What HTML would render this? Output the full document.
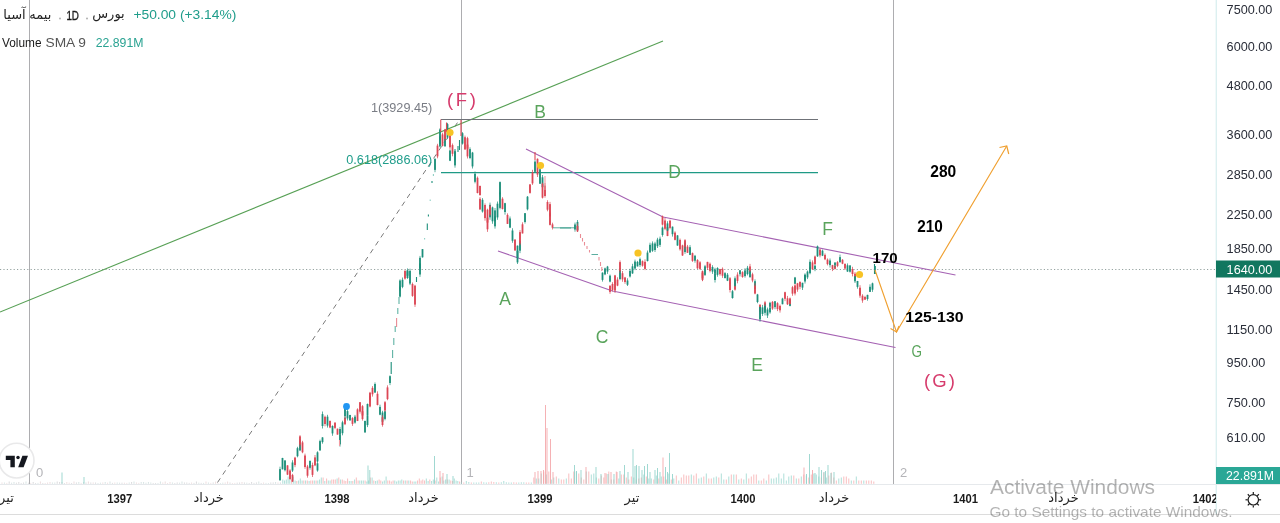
<!DOCTYPE html><html><head><meta charset="utf-8"><title>chart</title><style>
html,body{margin:0;padding:0;background:#fff;}body{width:1280px;height:523px;overflow:hidden;}svg{display:block;}text{font-family:"Liberation Sans",sans-serif;}</style></head><body>
<svg width="1280" height="523" viewBox="0 0 1280 523">
<rect width="1280" height="523" fill="#fff"/>
<line x1="29.5" y1="0" x2="29.5" y2="484" stroke="#adadb0" stroke-width="1"/>
<line x1="461.5" y1="0" x2="461.5" y2="484" stroke="#adadb0" stroke-width="1"/>
<line x1="893.5" y1="0" x2="893.5" y2="484" stroke="#adadb0" stroke-width="1"/>
<line x1="2.0" y1="483.8" x2="2.0" y2="482.5" stroke="#ead6d7" stroke-width="0.85"/>
<line x1="4.4" y1="483.8" x2="4.4" y2="482.5" stroke="#cfdedd" stroke-width="0.85"/>
<line x1="6.8" y1="483.8" x2="6.8" y2="482.9" stroke="#ead6d7" stroke-width="0.85"/>
<line x1="9.2" y1="483.8" x2="9.2" y2="481.5" stroke="#d2d2d4" stroke-width="0.85"/>
<line x1="11.6" y1="483.8" x2="11.6" y2="482.7" stroke="#cfdedd" stroke-width="0.85"/>
<line x1="14.0" y1="483.8" x2="14.0" y2="482.0" stroke="#cfdedd" stroke-width="0.85"/>
<line x1="16.4" y1="483.8" x2="16.4" y2="482.7" stroke="#d2d2d4" stroke-width="0.85"/>
<line x1="18.8" y1="483.8" x2="18.8" y2="482.0" stroke="#d2d2d4" stroke-width="0.85"/>
<line x1="21.2" y1="483.8" x2="21.2" y2="483.0" stroke="#d2d2d4" stroke-width="0.85"/>
<line x1="23.6" y1="483.8" x2="23.6" y2="482.5" stroke="#d2d2d4" stroke-width="0.85"/>
<line x1="26.0" y1="483.8" x2="26.0" y2="481.5" stroke="#cfdedd" stroke-width="0.85"/>
<line x1="28.4" y1="483.8" x2="28.4" y2="482.7" stroke="#d2d2d4" stroke-width="0.85"/>
<line x1="30.8" y1="483.8" x2="30.8" y2="482.9" stroke="#ead6d7" stroke-width="0.85"/>
<line x1="33.2" y1="483.8" x2="33.2" y2="482.0" stroke="#d2d2d4" stroke-width="0.85"/>
<line x1="35.6" y1="483.8" x2="35.6" y2="483.0" stroke="#d2d2d4" stroke-width="0.85"/>
<line x1="38.0" y1="483.8" x2="38.0" y2="482.9" stroke="#cfdedd" stroke-width="0.85"/>
<line x1="40.4" y1="483.8" x2="40.4" y2="481.5" stroke="#ead6d7" stroke-width="0.85"/>
<line x1="42.8" y1="483.8" x2="42.8" y2="483.0" stroke="#d2d2d4" stroke-width="0.85"/>
<line x1="45.2" y1="483.8" x2="45.2" y2="483.0" stroke="#ead6d7" stroke-width="0.85"/>
<line x1="47.6" y1="483.8" x2="47.6" y2="482.5" stroke="#ead6d7" stroke-width="0.85"/>
<line x1="50.0" y1="483.8" x2="50.0" y2="482.0" stroke="#ead6d7" stroke-width="0.85"/>
<line x1="52.4" y1="483.8" x2="52.4" y2="482.5" stroke="#cfdedd" stroke-width="0.85"/>
<line x1="54.8" y1="483.8" x2="54.8" y2="482.5" stroke="#cfdedd" stroke-width="0.85"/>
<line x1="57.2" y1="483.8" x2="57.2" y2="481.5" stroke="#d2d2d4" stroke-width="0.85"/>
<line x1="59.6" y1="483.8" x2="59.6" y2="482.0" stroke="#d2d2d4" stroke-width="0.85"/>
<line x1="62.0" y1="483.8" x2="62.0" y2="482.0" stroke="#d2d2d4" stroke-width="0.85"/>
<line x1="64.4" y1="483.8" x2="64.4" y2="483.0" stroke="#d2d2d4" stroke-width="0.85"/>
<line x1="66.8" y1="483.8" x2="66.8" y2="482.0" stroke="#ead6d7" stroke-width="0.85"/>
<line x1="69.2" y1="483.8" x2="69.2" y2="482.7" stroke="#ead6d7" stroke-width="0.85"/>
<line x1="71.6" y1="483.8" x2="71.6" y2="483.0" stroke="#d2d2d4" stroke-width="0.85"/>
<line x1="74.0" y1="483.8" x2="74.0" y2="481.5" stroke="#ead6d7" stroke-width="0.85"/>
<line x1="76.4" y1="483.8" x2="76.4" y2="482.5" stroke="#d2d2d4" stroke-width="0.85"/>
<line x1="78.8" y1="483.8" x2="78.8" y2="482.0" stroke="#cfdedd" stroke-width="0.85"/>
<line x1="81.2" y1="483.8" x2="81.2" y2="482.9" stroke="#ead6d7" stroke-width="0.85"/>
<line x1="83.6" y1="483.8" x2="83.6" y2="482.0" stroke="#cfdedd" stroke-width="0.85"/>
<line x1="86.0" y1="483.8" x2="86.0" y2="482.5" stroke="#d2d2d4" stroke-width="0.85"/>
<line x1="88.4" y1="483.8" x2="88.4" y2="481.5" stroke="#ead6d7" stroke-width="0.85"/>
<line x1="90.8" y1="483.8" x2="90.8" y2="482.5" stroke="#d2d2d4" stroke-width="0.85"/>
<line x1="93.2" y1="483.8" x2="93.2" y2="482.5" stroke="#ead6d7" stroke-width="0.85"/>
<line x1="95.6" y1="483.8" x2="95.6" y2="482.5" stroke="#d2d2d4" stroke-width="0.85"/>
<line x1="98.0" y1="483.8" x2="98.0" y2="483.0" stroke="#cfdedd" stroke-width="0.85"/>
<line x1="100.4" y1="483.8" x2="100.4" y2="482.7" stroke="#cfdedd" stroke-width="0.85"/>
<line x1="102.8" y1="483.8" x2="102.8" y2="482.5" stroke="#ead6d7" stroke-width="0.85"/>
<line x1="105.2" y1="483.8" x2="105.2" y2="482.0" stroke="#cfdedd" stroke-width="0.85"/>
<line x1="107.6" y1="483.8" x2="107.6" y2="482.7" stroke="#ead6d7" stroke-width="0.85"/>
<line x1="110.0" y1="483.8" x2="110.0" y2="481.5" stroke="#cfdedd" stroke-width="0.85"/>
<line x1="112.4" y1="483.8" x2="112.4" y2="482.9" stroke="#d2d2d4" stroke-width="0.85"/>
<line x1="114.8" y1="483.8" x2="114.8" y2="482.5" stroke="#ead6d7" stroke-width="0.85"/>
<line x1="117.2" y1="483.8" x2="117.2" y2="482.5" stroke="#cfdedd" stroke-width="0.85"/>
<line x1="119.6" y1="483.8" x2="119.6" y2="482.7" stroke="#cfdedd" stroke-width="0.85"/>
<line x1="122.0" y1="483.8" x2="122.0" y2="482.7" stroke="#d2d2d4" stroke-width="0.85"/>
<line x1="124.4" y1="483.8" x2="124.4" y2="482.7" stroke="#ead6d7" stroke-width="0.85"/>
<line x1="126.8" y1="483.8" x2="126.8" y2="482.9" stroke="#ead6d7" stroke-width="0.85"/>
<line x1="129.2" y1="483.8" x2="129.2" y2="482.5" stroke="#cfdedd" stroke-width="0.85"/>
<line x1="131.6" y1="483.8" x2="131.6" y2="482.0" stroke="#d2d2d4" stroke-width="0.85"/>
<line x1="134.0" y1="483.8" x2="134.0" y2="481.5" stroke="#cfdedd" stroke-width="0.85"/>
<line x1="136.4" y1="483.8" x2="136.4" y2="482.5" stroke="#ead6d7" stroke-width="0.85"/>
<line x1="138.8" y1="483.8" x2="138.8" y2="482.9" stroke="#ead6d7" stroke-width="0.85"/>
<line x1="141.2" y1="483.8" x2="141.2" y2="482.0" stroke="#cfdedd" stroke-width="0.85"/>
<line x1="143.6" y1="483.8" x2="143.6" y2="482.0" stroke="#cfdedd" stroke-width="0.85"/>
<line x1="146.0" y1="483.8" x2="146.0" y2="482.7" stroke="#cfdedd" stroke-width="0.85"/>
<line x1="148.4" y1="483.8" x2="148.4" y2="482.0" stroke="#cfdedd" stroke-width="0.85"/>
<line x1="150.8" y1="483.8" x2="150.8" y2="482.5" stroke="#cfdedd" stroke-width="0.85"/>
<line x1="153.2" y1="483.8" x2="153.2" y2="483.0" stroke="#d2d2d4" stroke-width="0.85"/>
<line x1="155.6" y1="483.8" x2="155.6" y2="483.0" stroke="#d2d2d4" stroke-width="0.85"/>
<line x1="158.0" y1="483.8" x2="158.0" y2="483.0" stroke="#cfdedd" stroke-width="0.85"/>
<line x1="160.4" y1="483.8" x2="160.4" y2="481.5" stroke="#cfdedd" stroke-width="0.85"/>
<line x1="162.8" y1="483.8" x2="162.8" y2="482.5" stroke="#ead6d7" stroke-width="0.85"/>
<line x1="165.2" y1="483.8" x2="165.2" y2="481.5" stroke="#ead6d7" stroke-width="0.85"/>
<line x1="167.6" y1="483.8" x2="167.6" y2="483.0" stroke="#ead6d7" stroke-width="0.85"/>
<line x1="170.0" y1="483.8" x2="170.0" y2="482.0" stroke="#ead6d7" stroke-width="0.85"/>
<line x1="172.4" y1="483.8" x2="172.4" y2="482.5" stroke="#cfdedd" stroke-width="0.85"/>
<line x1="174.8" y1="483.8" x2="174.8" y2="483.0" stroke="#d2d2d4" stroke-width="0.85"/>
<line x1="177.2" y1="483.8" x2="177.2" y2="482.5" stroke="#d2d2d4" stroke-width="0.85"/>
<line x1="179.6" y1="483.8" x2="179.6" y2="482.7" stroke="#cfdedd" stroke-width="0.85"/>
<line x1="182.0" y1="483.8" x2="182.0" y2="481.5" stroke="#cfdedd" stroke-width="0.85"/>
<line x1="184.4" y1="483.8" x2="184.4" y2="482.5" stroke="#d2d2d4" stroke-width="0.85"/>
<line x1="186.8" y1="483.8" x2="186.8" y2="482.5" stroke="#d2d2d4" stroke-width="0.85"/>
<line x1="189.2" y1="483.8" x2="189.2" y2="482.9" stroke="#d2d2d4" stroke-width="0.85"/>
<line x1="191.6" y1="483.8" x2="191.6" y2="482.5" stroke="#ead6d7" stroke-width="0.85"/>
<line x1="194.0" y1="483.8" x2="194.0" y2="482.9" stroke="#d2d2d4" stroke-width="0.85"/>
<line x1="196.4" y1="483.8" x2="196.4" y2="481.5" stroke="#d2d2d4" stroke-width="0.85"/>
<line x1="198.8" y1="483.8" x2="198.8" y2="482.7" stroke="#cfdedd" stroke-width="0.85"/>
<line x1="201.2" y1="483.8" x2="201.2" y2="482.9" stroke="#d2d2d4" stroke-width="0.85"/>
<line x1="203.6" y1="483.8" x2="203.6" y2="482.9" stroke="#cfdedd" stroke-width="0.85"/>
<line x1="206.0" y1="483.8" x2="206.0" y2="481.5" stroke="#ead6d7" stroke-width="0.85"/>
<line x1="208.4" y1="483.8" x2="208.4" y2="482.5" stroke="#cfdedd" stroke-width="0.85"/>
<line x1="210.8" y1="483.8" x2="210.8" y2="482.9" stroke="#ead6d7" stroke-width="0.85"/>
<line x1="213.2" y1="483.8" x2="213.2" y2="482.5" stroke="#d2d2d4" stroke-width="0.85"/>
<line x1="215.6" y1="483.8" x2="215.6" y2="481.5" stroke="#ead6d7" stroke-width="0.85"/>
<line x1="218.0" y1="483.8" x2="218.0" y2="482.9" stroke="#ead6d7" stroke-width="0.85"/>
<line x1="220.4" y1="483.8" x2="220.4" y2="483.0" stroke="#cfdedd" stroke-width="0.85"/>
<line x1="222.8" y1="483.8" x2="222.8" y2="482.7" stroke="#cfdedd" stroke-width="0.85"/>
<line x1="225.2" y1="483.8" x2="225.2" y2="482.5" stroke="#ead6d7" stroke-width="0.85"/>
<line x1="227.6" y1="483.8" x2="227.6" y2="481.5" stroke="#ead6d7" stroke-width="0.85"/>
<line x1="230.0" y1="483.8" x2="230.0" y2="482.5" stroke="#d2d2d4" stroke-width="0.85"/>
<line x1="232.4" y1="483.8" x2="232.4" y2="483.0" stroke="#ead6d7" stroke-width="0.85"/>
<line x1="234.8" y1="483.8" x2="234.8" y2="482.9" stroke="#ead6d7" stroke-width="0.85"/>
<line x1="237.2" y1="483.8" x2="237.2" y2="482.7" stroke="#d2d2d4" stroke-width="0.85"/>
<line x1="239.6" y1="483.8" x2="239.6" y2="482.5" stroke="#d2d2d4" stroke-width="0.85"/>
<line x1="242.0" y1="483.8" x2="242.0" y2="482.0" stroke="#ead6d7" stroke-width="0.85"/>
<line x1="244.4" y1="483.8" x2="244.4" y2="482.5" stroke="#d2d2d4" stroke-width="0.85"/>
<line x1="246.8" y1="483.8" x2="246.8" y2="482.7" stroke="#cfdedd" stroke-width="0.85"/>
<line x1="249.2" y1="483.8" x2="249.2" y2="483.0" stroke="#d2d2d4" stroke-width="0.85"/>
<line x1="251.6" y1="483.8" x2="251.6" y2="482.0" stroke="#d2d2d4" stroke-width="0.85"/>
<line x1="254.0" y1="483.8" x2="254.0" y2="482.9" stroke="#d2d2d4" stroke-width="0.85"/>
<line x1="256.4" y1="483.8" x2="256.4" y2="482.5" stroke="#d2d2d4" stroke-width="0.85"/>
<line x1="258.8" y1="483.8" x2="258.8" y2="481.5" stroke="#cfdedd" stroke-width="0.85"/>
<line x1="261.2" y1="483.8" x2="261.2" y2="483.0" stroke="#d2d2d4" stroke-width="0.85"/>
<line x1="263.6" y1="483.8" x2="263.6" y2="482.5" stroke="#ead6d7" stroke-width="0.85"/>
<line x1="266.0" y1="483.8" x2="266.0" y2="482.9" stroke="#cfdedd" stroke-width="0.85"/>
<line x1="268.4" y1="483.8" x2="268.4" y2="483.0" stroke="#cfdedd" stroke-width="0.85"/>
<line x1="270.8" y1="483.8" x2="270.8" y2="482.5" stroke="#d2d2d4" stroke-width="0.85"/>
<line x1="273.2" y1="483.8" x2="273.2" y2="482.5" stroke="#d2d2d4" stroke-width="0.85"/>
<line x1="275.6" y1="483.8" x2="275.6" y2="482.0" stroke="#cfdedd" stroke-width="0.85"/>
<line x1="278.0" y1="483.8" x2="278.0" y2="482.5" stroke="#ead6d7" stroke-width="0.85"/>
<line x1="280.4" y1="483.8" x2="280.4" y2="482.5" stroke="#d2d2d4" stroke-width="0.85"/>
<line x1="282.8" y1="483.8" x2="282.8" y2="479.5" stroke="#9fd8d1" stroke-width="0.85"/>
<line x1="284.6" y1="483.8" x2="284.6" y2="480.5" stroke="#9fd8d1" stroke-width="0.85"/>
<line x1="286.3" y1="483.8" x2="286.3" y2="479.5" stroke="#9fd8d1" stroke-width="0.85"/>
<line x1="288.1" y1="483.8" x2="288.1" y2="476.5" stroke="#9fd8d1" stroke-width="0.85"/>
<line x1="289.8" y1="483.8" x2="289.8" y2="479.5" stroke="#9fd8d1" stroke-width="0.85"/>
<line x1="291.6" y1="483.8" x2="291.6" y2="479.5" stroke="#f6b1b3" stroke-width="0.85"/>
<line x1="293.3" y1="483.8" x2="293.3" y2="476.5" stroke="#9fd8d1" stroke-width="0.85"/>
<line x1="295.1" y1="483.8" x2="295.1" y2="480.5" stroke="#9fd8d1" stroke-width="0.85"/>
<line x1="296.8" y1="483.8" x2="296.8" y2="481.0" stroke="#f6b1b3" stroke-width="0.85"/>
<line x1="298.6" y1="483.8" x2="298.6" y2="480.5" stroke="#9fd8d1" stroke-width="0.85"/>
<line x1="300.3" y1="483.8" x2="300.3" y2="478.5" stroke="#9fd8d1" stroke-width="0.85"/>
<line x1="302.1" y1="483.8" x2="302.1" y2="480.5" stroke="#9fd8d1" stroke-width="0.85"/>
<line x1="303.8" y1="483.8" x2="303.8" y2="480.5" stroke="#f6b1b3" stroke-width="0.85"/>
<line x1="305.6" y1="483.8" x2="305.6" y2="480.5" stroke="#9fd8d1" stroke-width="0.85"/>
<line x1="307.3" y1="483.8" x2="307.3" y2="480.5" stroke="#f6b1b3" stroke-width="0.85"/>
<line x1="309.1" y1="483.8" x2="309.1" y2="481.0" stroke="#9fd8d1" stroke-width="0.85"/>
<line x1="310.8" y1="483.8" x2="310.8" y2="480.5" stroke="#f6b1b3" stroke-width="0.85"/>
<line x1="312.6" y1="483.8" x2="312.6" y2="480.5" stroke="#f6b1b3" stroke-width="0.85"/>
<line x1="314.3" y1="483.8" x2="314.3" y2="480.5" stroke="#9fd8d1" stroke-width="0.85"/>
<line x1="316.1" y1="483.8" x2="316.1" y2="480.5" stroke="#f6b1b3" stroke-width="0.85"/>
<line x1="317.8" y1="483.8" x2="317.8" y2="480.5" stroke="#9fd8d1" stroke-width="0.85"/>
<line x1="319.6" y1="483.8" x2="319.6" y2="479.5" stroke="#9fd8d1" stroke-width="0.85"/>
<line x1="321.3" y1="483.8" x2="321.3" y2="477.5" stroke="#9fd8d1" stroke-width="0.85"/>
<line x1="323.1" y1="483.8" x2="323.1" y2="477.5" stroke="#f6b1b3" stroke-width="0.85"/>
<line x1="324.8" y1="483.8" x2="324.8" y2="481.0" stroke="#9fd8d1" stroke-width="0.85"/>
<line x1="326.6" y1="483.8" x2="326.6" y2="478.5" stroke="#f6b1b3" stroke-width="0.85"/>
<line x1="328.3" y1="483.8" x2="328.3" y2="480.5" stroke="#9fd8d1" stroke-width="0.85"/>
<line x1="330.1" y1="483.8" x2="330.1" y2="480.5" stroke="#9fd8d1" stroke-width="0.85"/>
<line x1="331.8" y1="483.8" x2="331.8" y2="479.5" stroke="#f6b1b3" stroke-width="0.85"/>
<line x1="333.6" y1="483.8" x2="333.6" y2="479.5" stroke="#f6b1b3" stroke-width="0.85"/>
<line x1="335.3" y1="483.8" x2="335.3" y2="479.5" stroke="#f6b1b3" stroke-width="0.85"/>
<line x1="337.1" y1="483.8" x2="337.1" y2="478.5" stroke="#9fd8d1" stroke-width="0.85"/>
<line x1="338.8" y1="483.8" x2="338.8" y2="477.5" stroke="#f6b1b3" stroke-width="0.85"/>
<line x1="340.6" y1="483.8" x2="340.6" y2="479.5" stroke="#9fd8d1" stroke-width="0.85"/>
<line x1="342.3" y1="483.8" x2="342.3" y2="479.5" stroke="#f6b1b3" stroke-width="0.85"/>
<line x1="344.1" y1="483.8" x2="344.1" y2="480.5" stroke="#f6b1b3" stroke-width="0.85"/>
<line x1="345.8" y1="483.8" x2="345.8" y2="481.0" stroke="#f6b1b3" stroke-width="0.85"/>
<line x1="347.6" y1="483.8" x2="347.6" y2="478.5" stroke="#f6b1b3" stroke-width="0.85"/>
<line x1="349.3" y1="483.8" x2="349.3" y2="481.0" stroke="#9fd8d1" stroke-width="0.85"/>
<line x1="351.1" y1="483.8" x2="351.1" y2="481.0" stroke="#9fd8d1" stroke-width="0.85"/>
<line x1="352.8" y1="483.8" x2="352.8" y2="481.0" stroke="#f6b1b3" stroke-width="0.85"/>
<line x1="354.6" y1="483.8" x2="354.6" y2="479.5" stroke="#9fd8d1" stroke-width="0.85"/>
<line x1="356.3" y1="483.8" x2="356.3" y2="477.5" stroke="#f6b1b3" stroke-width="0.85"/>
<line x1="358.1" y1="483.8" x2="358.1" y2="480.5" stroke="#f6b1b3" stroke-width="0.85"/>
<line x1="359.8" y1="483.8" x2="359.8" y2="480.5" stroke="#9fd8d1" stroke-width="0.85"/>
<line x1="361.6" y1="483.8" x2="361.6" y2="480.5" stroke="#9fd8d1" stroke-width="0.85"/>
<line x1="363.3" y1="483.8" x2="363.3" y2="480.5" stroke="#9fd8d1" stroke-width="0.85"/>
<line x1="365.1" y1="483.8" x2="365.1" y2="480.5" stroke="#f6b1b3" stroke-width="0.85"/>
<line x1="366.8" y1="483.8" x2="366.8" y2="481.5" stroke="#9fd8d1" stroke-width="0.85"/>
<line x1="368.6" y1="483.8" x2="368.6" y2="480.5" stroke="#9fd8d1" stroke-width="0.85"/>
<line x1="370.3" y1="483.8" x2="370.3" y2="477.5" stroke="#f6b1b3" stroke-width="0.85"/>
<line x1="372.1" y1="483.8" x2="372.1" y2="477.5" stroke="#9fd8d1" stroke-width="0.85"/>
<line x1="373.8" y1="483.8" x2="373.8" y2="480.5" stroke="#f6b1b3" stroke-width="0.85"/>
<line x1="375.6" y1="483.8" x2="375.6" y2="481.0" stroke="#9fd8d1" stroke-width="0.85"/>
<line x1="377.3" y1="483.8" x2="377.3" y2="480.5" stroke="#9fd8d1" stroke-width="0.85"/>
<line x1="379.1" y1="483.8" x2="379.1" y2="479.5" stroke="#f6b1b3" stroke-width="0.85"/>
<line x1="380.8" y1="483.8" x2="380.8" y2="480.5" stroke="#f6b1b3" stroke-width="0.85"/>
<line x1="382.6" y1="483.8" x2="382.6" y2="481.5" stroke="#9fd8d1" stroke-width="0.85"/>
<line x1="384.3" y1="483.8" x2="384.3" y2="480.5" stroke="#9fd8d1" stroke-width="0.85"/>
<line x1="386.1" y1="483.8" x2="386.1" y2="476.5" stroke="#9fd8d1" stroke-width="0.85"/>
<line x1="387.8" y1="483.8" x2="387.8" y2="480.5" stroke="#f6b1b3" stroke-width="0.85"/>
<line x1="389.6" y1="483.8" x2="389.6" y2="480.5" stroke="#f6b1b3" stroke-width="0.85"/>
<line x1="391.3" y1="483.8" x2="391.3" y2="481.5" stroke="#f6b1b3" stroke-width="0.85"/>
<line x1="393.1" y1="483.8" x2="393.1" y2="480.5" stroke="#f6b1b3" stroke-width="0.85"/>
<line x1="394.8" y1="483.8" x2="394.8" y2="480.5" stroke="#9fd8d1" stroke-width="0.85"/>
<line x1="396.6" y1="483.8" x2="396.6" y2="481.5" stroke="#9fd8d1" stroke-width="0.85"/>
<line x1="398.3" y1="483.8" x2="398.3" y2="480.5" stroke="#9fd8d1" stroke-width="0.85"/>
<line x1="400.1" y1="483.8" x2="400.1" y2="480.5" stroke="#9fd8d1" stroke-width="0.85"/>
<line x1="401.8" y1="483.8" x2="401.8" y2="479.5" stroke="#9fd8d1" stroke-width="0.85"/>
<line x1="403.6" y1="483.8" x2="403.6" y2="480.5" stroke="#f6b1b3" stroke-width="0.85"/>
<line x1="405.3" y1="483.8" x2="405.3" y2="480.5" stroke="#9fd8d1" stroke-width="0.85"/>
<line x1="407.1" y1="483.8" x2="407.1" y2="480.5" stroke="#f6b1b3" stroke-width="0.85"/>
<line x1="408.8" y1="483.8" x2="408.8" y2="480.5" stroke="#9fd8d1" stroke-width="0.85"/>
<line x1="410.6" y1="483.8" x2="410.6" y2="480.5" stroke="#f6b1b3" stroke-width="0.85"/>
<line x1="412.3" y1="483.8" x2="412.3" y2="481.5" stroke="#f6b1b3" stroke-width="0.85"/>
<line x1="414.1" y1="483.8" x2="414.1" y2="481.5" stroke="#9fd8d1" stroke-width="0.85"/>
<line x1="415.8" y1="483.8" x2="415.8" y2="481.5" stroke="#9fd8d1" stroke-width="0.85"/>
<line x1="417.6" y1="483.8" x2="417.6" y2="480.5" stroke="#f6b1b3" stroke-width="0.85"/>
<line x1="419.3" y1="483.8" x2="419.3" y2="478.5" stroke="#f6b1b3" stroke-width="0.85"/>
<line x1="421.1" y1="483.8" x2="421.1" y2="480.5" stroke="#f6b1b3" stroke-width="0.85"/>
<line x1="422.8" y1="483.8" x2="422.8" y2="479.5" stroke="#f6b1b3" stroke-width="0.85"/>
<line x1="424.6" y1="483.8" x2="424.6" y2="480.5" stroke="#f6b1b3" stroke-width="0.85"/>
<line x1="426.3" y1="483.8" x2="426.3" y2="478.5" stroke="#9fd8d1" stroke-width="0.85"/>
<line x1="428.1" y1="483.8" x2="428.1" y2="481.0" stroke="#9fd8d1" stroke-width="0.85"/>
<line x1="429.8" y1="483.8" x2="429.8" y2="479.5" stroke="#f6b1b3" stroke-width="0.85"/>
<line x1="431.6" y1="483.8" x2="431.6" y2="481.0" stroke="#9fd8d1" stroke-width="0.85"/>
<line x1="433.3" y1="483.8" x2="433.3" y2="479.5" stroke="#9fd8d1" stroke-width="0.85"/>
<line x1="435.1" y1="483.8" x2="435.1" y2="480.5" stroke="#f6b1b3" stroke-width="0.85"/>
<line x1="436.8" y1="483.8" x2="436.8" y2="477.5" stroke="#9fd8d1" stroke-width="0.85"/>
<line x1="438.6" y1="483.8" x2="438.6" y2="481.5" stroke="#9fd8d1" stroke-width="0.85"/>
<line x1="440.3" y1="483.8" x2="440.3" y2="477.5" stroke="#f6b1b3" stroke-width="0.85"/>
<line x1="442.1" y1="483.8" x2="442.1" y2="476.5" stroke="#9fd8d1" stroke-width="0.85"/>
<line x1="443.8" y1="483.8" x2="443.8" y2="480.5" stroke="#9fd8d1" stroke-width="0.85"/>
<line x1="445.6" y1="483.8" x2="445.6" y2="479.5" stroke="#9fd8d1" stroke-width="0.85"/>
<line x1="447.3" y1="483.8" x2="447.3" y2="479.5" stroke="#f6b1b3" stroke-width="0.85"/>
<line x1="449.1" y1="483.8" x2="449.1" y2="479.5" stroke="#9fd8d1" stroke-width="0.85"/>
<line x1="450.8" y1="483.8" x2="450.8" y2="480.5" stroke="#f6b1b3" stroke-width="0.85"/>
<line x1="452.6" y1="483.8" x2="452.6" y2="481.0" stroke="#f6b1b3" stroke-width="0.85"/>
<line x1="454.3" y1="483.8" x2="454.3" y2="478.5" stroke="#9fd8d1" stroke-width="0.85"/>
<line x1="456.1" y1="483.8" x2="456.1" y2="480.5" stroke="#9fd8d1" stroke-width="0.85"/>
<line x1="457.8" y1="483.8" x2="457.8" y2="481.0" stroke="#9fd8d1" stroke-width="0.85"/>
<line x1="459.6" y1="483.8" x2="459.6" y2="481.5" stroke="#f6b1b3" stroke-width="0.85"/>
<line x1="461.3" y1="483.8" x2="461.3" y2="482.5" stroke="#9fd8d1" stroke-width="0.85"/>
<line x1="463.8" y1="483.8" x2="463.8" y2="482.5" stroke="#f6b1b3" stroke-width="0.85"/>
<line x1="466.3" y1="483.8" x2="466.3" y2="481.0" stroke="#9fd8d1" stroke-width="0.85"/>
<line x1="468.8" y1="483.8" x2="468.8" y2="482.0" stroke="#9fd8d1" stroke-width="0.85"/>
<line x1="471.3" y1="483.8" x2="471.3" y2="482.5" stroke="#f6b1b3" stroke-width="0.85"/>
<line x1="473.8" y1="483.8" x2="473.8" y2="482.5" stroke="#9fd8d1" stroke-width="0.85"/>
<line x1="476.3" y1="483.8" x2="476.3" y2="482.5" stroke="#9fd8d1" stroke-width="0.85"/>
<line x1="478.8" y1="483.8" x2="478.8" y2="482.5" stroke="#9fd8d1" stroke-width="0.85"/>
<line x1="481.3" y1="483.8" x2="481.3" y2="481.5" stroke="#f6b1b3" stroke-width="0.85"/>
<line x1="483.8" y1="483.8" x2="483.8" y2="482.3" stroke="#9fd8d1" stroke-width="0.85"/>
<line x1="486.3" y1="483.8" x2="486.3" y2="482.5" stroke="#9fd8d1" stroke-width="0.85"/>
<line x1="488.8" y1="483.8" x2="488.8" y2="482.3" stroke="#f6b1b3" stroke-width="0.85"/>
<line x1="491.3" y1="483.8" x2="491.3" y2="481.5" stroke="#f6b1b3" stroke-width="0.85"/>
<line x1="493.8" y1="483.8" x2="493.8" y2="482.0" stroke="#f6b1b3" stroke-width="0.85"/>
<line x1="496.3" y1="483.8" x2="496.3" y2="482.3" stroke="#9fd8d1" stroke-width="0.85"/>
<line x1="498.8" y1="483.8" x2="498.8" y2="482.5" stroke="#f6b1b3" stroke-width="0.85"/>
<line x1="501.3" y1="483.8" x2="501.3" y2="482.3" stroke="#9fd8d1" stroke-width="0.85"/>
<line x1="503.8" y1="483.8" x2="503.8" y2="481.0" stroke="#9fd8d1" stroke-width="0.85"/>
<line x1="506.3" y1="483.8" x2="506.3" y2="482.3" stroke="#9fd8d1" stroke-width="0.85"/>
<line x1="508.8" y1="483.8" x2="508.8" y2="482.5" stroke="#9fd8d1" stroke-width="0.85"/>
<line x1="511.3" y1="483.8" x2="511.3" y2="482.5" stroke="#9fd8d1" stroke-width="0.85"/>
<line x1="513.8" y1="483.8" x2="513.8" y2="482.3" stroke="#f6b1b3" stroke-width="0.85"/>
<line x1="516.3" y1="483.8" x2="516.3" y2="482.5" stroke="#f6b1b3" stroke-width="0.85"/>
<line x1="518.8" y1="483.8" x2="518.8" y2="482.5" stroke="#9fd8d1" stroke-width="0.85"/>
<line x1="521.3" y1="483.8" x2="521.3" y2="482.3" stroke="#9fd8d1" stroke-width="0.85"/>
<line x1="523.8" y1="483.8" x2="523.8" y2="482.3" stroke="#9fd8d1" stroke-width="0.85"/>
<line x1="526.3" y1="483.8" x2="526.3" y2="482.5" stroke="#f6b1b3" stroke-width="0.85"/>
<line x1="528.8" y1="483.8" x2="528.8" y2="482.5" stroke="#f6b1b3" stroke-width="0.85"/>
<line x1="531.3" y1="483.8" x2="531.3" y2="482.5" stroke="#9fd8d1" stroke-width="0.85"/>
<line x1="533.8" y1="483.8" x2="533.8" y2="477.5" stroke="#f6b1b3" stroke-width="0.85"/>
<line x1="536.3" y1="483.8" x2="536.3" y2="478.5" stroke="#9fd8d1" stroke-width="0.85"/>
<line x1="538.8" y1="483.8" x2="538.8" y2="478.5" stroke="#9fd8d1" stroke-width="0.85"/>
<line x1="541.3" y1="483.8" x2="541.3" y2="473.5" stroke="#9fd8d1" stroke-width="0.85"/>
<line x1="543.8" y1="483.8" x2="543.8" y2="471.5" stroke="#f6b1b3" stroke-width="0.85"/>
<line x1="546.3" y1="483.8" x2="546.3" y2="474.5" stroke="#9fd8d1" stroke-width="0.85"/>
<line x1="548.8" y1="483.8" x2="548.8" y2="471.5" stroke="#f6b1b3" stroke-width="0.85"/>
<line x1="551.3" y1="483.8" x2="551.3" y2="479.5" stroke="#9fd8d1" stroke-width="0.85"/>
<line x1="553.8" y1="483.8" x2="553.8" y2="477.5" stroke="#9fd8d1" stroke-width="0.85"/>
<line x1="556.3" y1="483.8" x2="556.3" y2="476.5" stroke="#f6b1b3" stroke-width="0.85"/>
<line x1="558.8" y1="483.8" x2="558.8" y2="478.5" stroke="#9fd8d1" stroke-width="0.85"/>
<line x1="561.3" y1="483.8" x2="561.3" y2="479.5" stroke="#f6b1b3" stroke-width="0.85"/>
<line x1="563.8" y1="483.8" x2="563.8" y2="479.5" stroke="#f6b1b3" stroke-width="0.85"/>
<line x1="566.3" y1="483.8" x2="566.3" y2="478.5" stroke="#9fd8d1" stroke-width="0.85"/>
<line x1="568.8" y1="483.8" x2="568.8" y2="473.5" stroke="#f6b1b3" stroke-width="0.85"/>
<line x1="571.3" y1="483.8" x2="571.3" y2="478.5" stroke="#f6b1b3" stroke-width="0.85"/>
<line x1="573.8" y1="483.8" x2="573.8" y2="471.5" stroke="#f6b1b3" stroke-width="0.85"/>
<line x1="576.3" y1="483.8" x2="576.3" y2="471.5" stroke="#9fd8d1" stroke-width="0.85"/>
<line x1="578.8" y1="483.8" x2="578.8" y2="473.5" stroke="#f6b1b3" stroke-width="0.85"/>
<line x1="581.3" y1="483.8" x2="581.3" y2="477.5" stroke="#f6b1b3" stroke-width="0.85"/>
<line x1="583.8" y1="483.8" x2="583.8" y2="479.5" stroke="#f6b1b3" stroke-width="0.85"/>
<line x1="586.3" y1="483.8" x2="586.3" y2="471.5" stroke="#9fd8d1" stroke-width="0.85"/>
<line x1="588.8" y1="483.8" x2="588.8" y2="471.5" stroke="#f6b1b3" stroke-width="0.85"/>
<line x1="591.3" y1="483.8" x2="591.3" y2="474.5" stroke="#9fd8d1" stroke-width="0.85"/>
<line x1="593.8" y1="483.8" x2="593.8" y2="473.5" stroke="#9fd8d1" stroke-width="0.85"/>
<line x1="596.3" y1="483.8" x2="596.3" y2="477.5" stroke="#9fd8d1" stroke-width="0.85"/>
<line x1="598.8" y1="483.8" x2="598.8" y2="478.5" stroke="#f6b1b3" stroke-width="0.85"/>
<line x1="601.3" y1="483.8" x2="601.3" y2="475.5" stroke="#f6b1b3" stroke-width="0.85"/>
<line x1="603.8" y1="483.8" x2="603.8" y2="477.5" stroke="#f6b1b3" stroke-width="0.85"/>
<line x1="606.3" y1="483.8" x2="606.3" y2="473.5" stroke="#f6b1b3" stroke-width="0.85"/>
<line x1="608.8" y1="483.8" x2="608.8" y2="471.5" stroke="#f6b1b3" stroke-width="0.85"/>
<line x1="611.3" y1="483.8" x2="611.3" y2="479.5" stroke="#9fd8d1" stroke-width="0.85"/>
<line x1="613.8" y1="483.8" x2="613.8" y2="479.5" stroke="#f6b1b3" stroke-width="0.85"/>
<line x1="616.3" y1="483.8" x2="616.3" y2="471.5" stroke="#f6b1b3" stroke-width="0.85"/>
<line x1="618.8" y1="483.8" x2="618.8" y2="478.5" stroke="#9fd8d1" stroke-width="0.85"/>
<line x1="621.3" y1="483.8" x2="621.3" y2="474.5" stroke="#f6b1b3" stroke-width="0.85"/>
<line x1="623.8" y1="483.8" x2="623.8" y2="474.5" stroke="#f6b1b3" stroke-width="0.85"/>
<line x1="626.3" y1="483.8" x2="626.3" y2="477.5" stroke="#f6b1b3" stroke-width="0.85"/>
<line x1="628.8" y1="483.8" x2="628.8" y2="479.5" stroke="#f6b1b3" stroke-width="0.85"/>
<line x1="631.3" y1="483.8" x2="631.3" y2="476.5" stroke="#f6b1b3" stroke-width="0.85"/>
<line x1="633.8" y1="483.8" x2="633.8" y2="477.5" stroke="#9fd8d1" stroke-width="0.85"/>
<line x1="636.3" y1="483.8" x2="636.3" y2="479.5" stroke="#f6b1b3" stroke-width="0.85"/>
<line x1="638.8" y1="483.8" x2="638.8" y2="478.5" stroke="#f6b1b3" stroke-width="0.85"/>
<line x1="641.3" y1="483.8" x2="641.3" y2="477.5" stroke="#f6b1b3" stroke-width="0.85"/>
<line x1="643.8" y1="483.8" x2="643.8" y2="474.5" stroke="#9fd8d1" stroke-width="0.85"/>
<line x1="646.3" y1="483.8" x2="646.3" y2="476.5" stroke="#f6b1b3" stroke-width="0.85"/>
<line x1="648.8" y1="483.8" x2="648.8" y2="478.5" stroke="#9fd8d1" stroke-width="0.85"/>
<line x1="651.3" y1="483.8" x2="651.3" y2="478.5" stroke="#9fd8d1" stroke-width="0.85"/>
<line x1="653.8" y1="483.8" x2="653.8" y2="479.5" stroke="#f6b1b3" stroke-width="0.85"/>
<line x1="656.3" y1="483.8" x2="656.3" y2="475.5" stroke="#9fd8d1" stroke-width="0.85"/>
<line x1="658.8" y1="483.8" x2="658.8" y2="478.5" stroke="#f6b1b3" stroke-width="0.85"/>
<line x1="661.3" y1="483.8" x2="661.3" y2="476.5" stroke="#9fd8d1" stroke-width="0.85"/>
<line x1="663.8" y1="483.8" x2="663.8" y2="476.5" stroke="#f6b1b3" stroke-width="0.85"/>
<line x1="666.3" y1="483.8" x2="666.3" y2="479.5" stroke="#f6b1b3" stroke-width="0.85"/>
<line x1="668.8" y1="483.8" x2="668.8" y2="473.5" stroke="#9fd8d1" stroke-width="0.85"/>
<line x1="671.3" y1="483.8" x2="671.3" y2="479.5" stroke="#f6b1b3" stroke-width="0.85"/>
<line x1="673.8" y1="483.8" x2="673.8" y2="478.5" stroke="#9fd8d1" stroke-width="0.85"/>
<line x1="676.3" y1="483.8" x2="676.3" y2="475.5" stroke="#f6b1b3" stroke-width="0.85"/>
<line x1="678.8" y1="483.8" x2="678.8" y2="480.5" stroke="#9fd8d1" stroke-width="0.85"/>
<line x1="681.3" y1="483.8" x2="681.3" y2="477.5" stroke="#f6b1b3" stroke-width="0.85"/>
<line x1="683.8" y1="483.8" x2="683.8" y2="474.5" stroke="#f6b1b3" stroke-width="0.85"/>
<line x1="686.3" y1="483.8" x2="686.3" y2="475.5" stroke="#f6b1b3" stroke-width="0.85"/>
<line x1="688.8" y1="483.8" x2="688.8" y2="475.5" stroke="#f6b1b3" stroke-width="0.85"/>
<line x1="691.3" y1="483.8" x2="691.3" y2="474.5" stroke="#9fd8d1" stroke-width="0.85"/>
<line x1="693.8" y1="483.8" x2="693.8" y2="475.5" stroke="#f6b1b3" stroke-width="0.85"/>
<line x1="696.3" y1="483.8" x2="696.3" y2="473.5" stroke="#f6b1b3" stroke-width="0.85"/>
<line x1="698.8" y1="483.8" x2="698.8" y2="478.5" stroke="#9fd8d1" stroke-width="0.85"/>
<line x1="701.3" y1="483.8" x2="701.3" y2="477.5" stroke="#9fd8d1" stroke-width="0.85"/>
<line x1="703.8" y1="483.8" x2="703.8" y2="476.5" stroke="#f6b1b3" stroke-width="0.85"/>
<line x1="706.3" y1="483.8" x2="706.3" y2="473.5" stroke="#9fd8d1" stroke-width="0.85"/>
<line x1="708.8" y1="483.8" x2="708.8" y2="478.5" stroke="#f6b1b3" stroke-width="0.85"/>
<line x1="711.3" y1="483.8" x2="711.3" y2="478.5" stroke="#f6b1b3" stroke-width="0.85"/>
<line x1="713.8" y1="483.8" x2="713.8" y2="477.5" stroke="#9fd8d1" stroke-width="0.85"/>
<line x1="716.3" y1="483.8" x2="716.3" y2="476.5" stroke="#9fd8d1" stroke-width="0.85"/>
<line x1="718.8" y1="483.8" x2="718.8" y2="477.5" stroke="#f6b1b3" stroke-width="0.85"/>
<line x1="721.3" y1="483.8" x2="721.3" y2="473.5" stroke="#9fd8d1" stroke-width="0.85"/>
<line x1="723.8" y1="483.8" x2="723.8" y2="479.5" stroke="#9fd8d1" stroke-width="0.85"/>
<line x1="726.3" y1="483.8" x2="726.3" y2="479.5" stroke="#f6b1b3" stroke-width="0.85"/>
<line x1="728.8" y1="483.8" x2="728.8" y2="476.5" stroke="#9fd8d1" stroke-width="0.85"/>
<line x1="731.3" y1="483.8" x2="731.3" y2="474.5" stroke="#f6b1b3" stroke-width="0.85"/>
<line x1="733.8" y1="483.8" x2="733.8" y2="474.5" stroke="#9fd8d1" stroke-width="0.85"/>
<line x1="736.3" y1="483.8" x2="736.3" y2="474.5" stroke="#f6b1b3" stroke-width="0.85"/>
<line x1="738.8" y1="483.8" x2="738.8" y2="479.5" stroke="#9fd8d1" stroke-width="0.85"/>
<line x1="741.3" y1="483.8" x2="741.3" y2="478.5" stroke="#f6b1b3" stroke-width="0.85"/>
<line x1="743.8" y1="483.8" x2="743.8" y2="479.5" stroke="#9fd8d1" stroke-width="0.85"/>
<line x1="746.3" y1="483.8" x2="746.3" y2="473.5" stroke="#9fd8d1" stroke-width="0.85"/>
<line x1="748.8" y1="483.8" x2="748.8" y2="478.5" stroke="#f6b1b3" stroke-width="0.85"/>
<line x1="751.3" y1="483.8" x2="751.3" y2="476.5" stroke="#f6b1b3" stroke-width="0.85"/>
<line x1="753.8" y1="483.8" x2="753.8" y2="474.5" stroke="#f6b1b3" stroke-width="0.85"/>
<line x1="756.3" y1="483.8" x2="756.3" y2="474.5" stroke="#f6b1b3" stroke-width="0.85"/>
<line x1="758.8" y1="483.8" x2="758.8" y2="480.5" stroke="#9fd8d1" stroke-width="0.85"/>
<line x1="761.3" y1="483.8" x2="761.3" y2="480.5" stroke="#f6b1b3" stroke-width="0.85"/>
<line x1="763.8" y1="483.8" x2="763.8" y2="478.5" stroke="#f6b1b3" stroke-width="0.85"/>
<line x1="766.3" y1="483.8" x2="766.3" y2="480.5" stroke="#9fd8d1" stroke-width="0.85"/>
<line x1="768.8" y1="483.8" x2="768.8" y2="474.5" stroke="#f6b1b3" stroke-width="0.85"/>
<line x1="771.3" y1="483.8" x2="771.3" y2="478.5" stroke="#9fd8d1" stroke-width="0.85"/>
<line x1="773.8" y1="483.8" x2="773.8" y2="478.5" stroke="#9fd8d1" stroke-width="0.85"/>
<line x1="776.3" y1="483.8" x2="776.3" y2="477.5" stroke="#9fd8d1" stroke-width="0.85"/>
<line x1="778.8" y1="483.8" x2="778.8" y2="473.5" stroke="#9fd8d1" stroke-width="0.85"/>
<line x1="781.3" y1="483.8" x2="781.3" y2="478.5" stroke="#9fd8d1" stroke-width="0.85"/>
<line x1="783.8" y1="483.8" x2="783.8" y2="473.5" stroke="#9fd8d1" stroke-width="0.85"/>
<line x1="786.3" y1="483.8" x2="786.3" y2="480.5" stroke="#9fd8d1" stroke-width="0.85"/>
<line x1="788.8" y1="483.8" x2="788.8" y2="476.5" stroke="#9fd8d1" stroke-width="0.85"/>
<line x1="791.3" y1="483.8" x2="791.3" y2="475.5" stroke="#9fd8d1" stroke-width="0.85"/>
<line x1="793.8" y1="483.8" x2="793.8" y2="475.5" stroke="#f6b1b3" stroke-width="0.85"/>
<line x1="796.3" y1="483.8" x2="796.3" y2="478.5" stroke="#9fd8d1" stroke-width="0.85"/>
<line x1="798.8" y1="483.8" x2="798.8" y2="478.5" stroke="#f6b1b3" stroke-width="0.85"/>
<line x1="801.3" y1="483.8" x2="801.3" y2="476.5" stroke="#9fd8d1" stroke-width="0.85"/>
<line x1="803.8" y1="483.8" x2="803.8" y2="474.5" stroke="#f6b1b3" stroke-width="0.85"/>
<line x1="806.3" y1="483.8" x2="806.3" y2="475.5" stroke="#9fd8d1" stroke-width="0.85"/>
<line x1="808.8" y1="483.8" x2="808.8" y2="477.5" stroke="#f6b1b3" stroke-width="0.85"/>
<line x1="811.3" y1="483.8" x2="811.3" y2="474.5" stroke="#f6b1b3" stroke-width="0.85"/>
<line x1="813.8" y1="483.8" x2="813.8" y2="473.5" stroke="#9fd8d1" stroke-width="0.85"/>
<line x1="816.3" y1="483.8" x2="816.3" y2="474.5" stroke="#9fd8d1" stroke-width="0.85"/>
<line x1="818.8" y1="483.8" x2="818.8" y2="476.5" stroke="#9fd8d1" stroke-width="0.85"/>
<line x1="821.3" y1="483.8" x2="821.3" y2="477.5" stroke="#f6b1b3" stroke-width="0.85"/>
<line x1="823.8" y1="483.8" x2="823.8" y2="472.5" stroke="#f6b1b3" stroke-width="0.85"/>
<line x1="826.3" y1="483.8" x2="826.3" y2="477.5" stroke="#9fd8d1" stroke-width="0.85"/>
<line x1="828.8" y1="483.8" x2="828.8" y2="475.5" stroke="#f6b1b3" stroke-width="0.85"/>
<line x1="831.3" y1="483.8" x2="831.3" y2="472.5" stroke="#f6b1b3" stroke-width="0.85"/>
<line x1="833.8" y1="483.8" x2="833.8" y2="477.5" stroke="#f6b1b3" stroke-width="0.85"/>
<line x1="836.3" y1="483.8" x2="836.3" y2="480.5" stroke="#f6b1b3" stroke-width="0.85"/>
<line x1="838.8" y1="483.8" x2="838.8" y2="478.5" stroke="#9fd8d1" stroke-width="0.85"/>
<line x1="841.3" y1="483.8" x2="841.3" y2="477.5" stroke="#9fd8d1" stroke-width="0.85"/>
<line x1="843.8" y1="483.8" x2="843.8" y2="476.5" stroke="#f6b1b3" stroke-width="0.85"/>
<line x1="846.3" y1="483.8" x2="846.3" y2="476.5" stroke="#f6b1b3" stroke-width="0.85"/>
<line x1="848.8" y1="483.8" x2="848.8" y2="478.5" stroke="#f6b1b3" stroke-width="0.85"/>
<line x1="851.3" y1="483.8" x2="851.3" y2="480.5" stroke="#9fd8d1" stroke-width="0.85"/>
<line x1="853.8" y1="483.8" x2="853.8" y2="480.5" stroke="#f6b1b3" stroke-width="0.85"/>
<line x1="856.3" y1="483.8" x2="856.3" y2="476.5" stroke="#9fd8d1" stroke-width="0.85"/>
<line x1="858.8" y1="483.8" x2="858.8" y2="480.5" stroke="#f6b1b3" stroke-width="0.85"/>
<line x1="861.3" y1="483.8" x2="861.3" y2="480.5" stroke="#f6b1b3" stroke-width="0.85"/>
<line x1="863.8" y1="483.8" x2="863.8" y2="480.5" stroke="#9fd8d1" stroke-width="0.85"/>
<line x1="866.3" y1="483.8" x2="866.3" y2="480.5" stroke="#f6b1b3" stroke-width="0.85"/>
<line x1="868.8" y1="483.8" x2="868.8" y2="480.5" stroke="#f6b1b3" stroke-width="0.85"/>
<line x1="871.3" y1="483.8" x2="871.3" y2="480.5" stroke="#f6b1b3" stroke-width="0.85"/>
<line x1="873.8" y1="483.8" x2="873.8" y2="481.5" stroke="#f6b1b3" stroke-width="0.85"/>
<line x1="62.0" y1="483.8" x2="62.0" y2="472.5" stroke="#8fd1c9" stroke-width="0.85"/>
<line x1="84.0" y1="483.8" x2="84.0" y2="477.0" stroke="#8fd1c9" stroke-width="0.85"/>
<line x1="368.0" y1="483.8" x2="368.0" y2="465.5" stroke="#8fd1c9" stroke-width="0.85"/>
<line x1="369.8" y1="483.8" x2="369.8" y2="470.0" stroke="#8fd1c9" stroke-width="0.85"/>
<line x1="434.5" y1="483.8" x2="434.5" y2="456.0" stroke="#8fd1c9" stroke-width="0.85"/>
<line x1="440.0" y1="483.8" x2="440.0" y2="471.0" stroke="#f3a3a6" stroke-width="0.85"/>
<line x1="443.0" y1="483.8" x2="443.0" y2="473.0" stroke="#f3a3a6" stroke-width="0.85"/>
<line x1="447.0" y1="483.8" x2="447.0" y2="474.0" stroke="#8fd1c9" stroke-width="0.85"/>
<line x1="453.0" y1="483.8" x2="453.0" y2="476.0" stroke="#8fd1c9" stroke-width="0.85"/>
<line x1="535.0" y1="483.8" x2="535.0" y2="472.0" stroke="#f3a3a6" stroke-width="0.85"/>
<line x1="538.0" y1="483.8" x2="538.0" y2="471.0" stroke="#f3a3a6" stroke-width="0.85"/>
<line x1="541.0" y1="483.8" x2="541.0" y2="471.0" stroke="#f3a3a6" stroke-width="0.85"/>
<line x1="543.5" y1="483.8" x2="543.5" y2="470.0" stroke="#f3a3a6" stroke-width="0.85"/>
<line x1="545.5" y1="483.8" x2="545.5" y2="405.0" stroke="#f3a3a6" stroke-width="0.85"/>
<line x1="547.0" y1="483.8" x2="547.0" y2="428.0" stroke="#f3a3a6" stroke-width="0.85"/>
<line x1="550.5" y1="483.8" x2="550.5" y2="439.0" stroke="#f3a3a6" stroke-width="0.85"/>
<line x1="553.0" y1="483.8" x2="553.0" y2="472.0" stroke="#f3a3a6" stroke-width="0.85"/>
<line x1="574.5" y1="483.8" x2="574.5" y2="465.0" stroke="#8fd1c9" stroke-width="0.85"/>
<line x1="576.5" y1="483.8" x2="576.5" y2="471.0" stroke="#8fd1c9" stroke-width="0.85"/>
<line x1="581.0" y1="483.8" x2="581.0" y2="470.0" stroke="#8fd1c9" stroke-width="0.85"/>
<line x1="586.0" y1="483.8" x2="586.0" y2="467.0" stroke="#f3a3a6" stroke-width="0.85"/>
<line x1="596.0" y1="483.8" x2="596.0" y2="467.0" stroke="#8fd1c9" stroke-width="0.85"/>
<line x1="601.0" y1="483.8" x2="601.0" y2="474.0" stroke="#8fd1c9" stroke-width="0.85"/>
<line x1="605.0" y1="483.8" x2="605.0" y2="473.0" stroke="#f3a3a6" stroke-width="0.85"/>
<line x1="608.0" y1="483.8" x2="608.0" y2="474.0" stroke="#8fd1c9" stroke-width="0.85"/>
<line x1="611.0" y1="483.8" x2="611.0" y2="472.0" stroke="#f3a3a6" stroke-width="0.85"/>
<line x1="614.0" y1="483.8" x2="614.0" y2="474.0" stroke="#8fd1c9" stroke-width="0.85"/>
<line x1="617.0" y1="483.8" x2="617.0" y2="472.0" stroke="#f3a3a6" stroke-width="0.85"/>
<line x1="620.0" y1="483.8" x2="620.0" y2="471.0" stroke="#8fd1c9" stroke-width="0.85"/>
<line x1="624.5" y1="483.8" x2="624.5" y2="465.0" stroke="#8fd1c9" stroke-width="0.85"/>
<line x1="628.0" y1="483.8" x2="628.0" y2="472.0" stroke="#8fd1c9" stroke-width="0.85"/>
<line x1="633.0" y1="483.8" x2="633.0" y2="449.0" stroke="#8fd1c9" stroke-width="0.85"/>
<line x1="635.0" y1="483.8" x2="635.0" y2="466.0" stroke="#8fd1c9" stroke-width="0.85"/>
<line x1="636.5" y1="483.8" x2="636.5" y2="465.0" stroke="#8fd1c9" stroke-width="0.85"/>
<line x1="639.0" y1="483.8" x2="639.0" y2="466.0" stroke="#8fd1c9" stroke-width="0.85"/>
<line x1="642.0" y1="483.8" x2="642.0" y2="470.0" stroke="#8fd1c9" stroke-width="0.85"/>
<line x1="644.5" y1="483.8" x2="644.5" y2="466.0" stroke="#8fd1c9" stroke-width="0.85"/>
<line x1="647.5" y1="483.8" x2="647.5" y2="464.0" stroke="#8fd1c9" stroke-width="0.85"/>
<line x1="650.0" y1="483.8" x2="650.0" y2="472.0" stroke="#8fd1c9" stroke-width="0.85"/>
<line x1="655.0" y1="483.8" x2="655.0" y2="470.0" stroke="#8fd1c9" stroke-width="0.85"/>
<line x1="657.5" y1="483.8" x2="657.5" y2="468.0" stroke="#8fd1c9" stroke-width="0.85"/>
<line x1="660.0" y1="483.8" x2="660.0" y2="472.0" stroke="#8fd1c9" stroke-width="0.85"/>
<line x1="663.0" y1="483.8" x2="663.0" y2="457.5" stroke="#f3a3a6" stroke-width="0.85"/>
<line x1="665.5" y1="483.8" x2="665.5" y2="467.0" stroke="#8fd1c9" stroke-width="0.85"/>
<line x1="667.5" y1="483.8" x2="667.5" y2="472.0" stroke="#8fd1c9" stroke-width="0.85"/>
<line x1="669.5" y1="483.8" x2="669.5" y2="453.0" stroke="#8fd1c9" stroke-width="0.85"/>
<line x1="672.5" y1="483.8" x2="672.5" y2="474.0" stroke="#8fd1c9" stroke-width="0.85"/>
<line x1="804.0" y1="483.8" x2="804.0" y2="467.5" stroke="#f3a3a6" stroke-width="0.85"/>
<line x1="806.5" y1="483.8" x2="806.5" y2="474.0" stroke="#8fd1c9" stroke-width="0.85"/>
<line x1="809.5" y1="483.8" x2="809.5" y2="454.0" stroke="#8fd1c9" stroke-width="0.85"/>
<line x1="812.5" y1="483.8" x2="812.5" y2="470.0" stroke="#f3a3a6" stroke-width="0.85"/>
<line x1="815.0" y1="483.8" x2="815.0" y2="473.0" stroke="#8fd1c9" stroke-width="0.85"/>
<line x1="819.0" y1="483.8" x2="819.0" y2="467.0" stroke="#8fd1c9" stroke-width="0.85"/>
<line x1="821.5" y1="483.8" x2="821.5" y2="470.0" stroke="#8fd1c9" stroke-width="0.85"/>
<line x1="824.0" y1="483.8" x2="824.0" y2="472.0" stroke="#8fd1c9" stroke-width="0.85"/>
<line x1="825.5" y1="483.8" x2="825.5" y2="471.0" stroke="#8fd1c9" stroke-width="0.85"/>
<line x1="828.0" y1="483.8" x2="828.0" y2="465.0" stroke="#8fd1c9" stroke-width="0.85"/>
<line x1="831.0" y1="483.8" x2="831.0" y2="473.0" stroke="#8fd1c9" stroke-width="0.85"/>
<line x1="834.0" y1="483.8" x2="834.0" y2="472.0" stroke="#8fd1c9" stroke-width="0.85"/>
<line x1="0" y1="269.5" x2="1216" y2="269.5" stroke="#95a3a0" stroke-width="1" stroke-dasharray="1.2 2.2"/>
<line x1="217.5" y1="482.5" x2="459.5" y2="119.5" stroke="#7a7a7a" stroke-width="1" stroke-dasharray="5 4.5"/>
<line x1="0" y1="312" x2="663" y2="41" stroke="#57a055" stroke-width="1.1"/>
<line x1="441" y1="119.5" x2="818" y2="119.5" stroke="#6f7278" stroke-width="1.2"/>
<line x1="441" y1="172.6" x2="818" y2="172.6" stroke="#1f9a86" stroke-width="1.2"/>
<polyline points="526,149 663,217 955.5,275" fill="none" stroke="#a562b3" stroke-width="1.1" stroke-linejoin="round"/>
<polyline points="498,251 612.5,291 895.5,347.5" fill="none" stroke="#a562b3" stroke-width="1.1" stroke-linejoin="round"/>
<filter id="bl" x="-5%" y="-5%" width="110%" height="110%"><feGaussianBlur stdDeviation="0.35"/></filter><g filter="url(#bl)">
<line x1="280.0" y1="466.7" x2="280.0" y2="480.5" stroke="#1d8f7b" stroke-width="0.8" opacity="0.9"/>
<rect x="279.10" y="469.1" width="1.8" height="11.2" fill="#1d8f7b"/>
<line x1="282.5" y1="457.8" x2="282.5" y2="469.4" stroke="#1d8f7b" stroke-width="0.8" opacity="0.9"/>
<rect x="281.60" y="458.0" width="1.8" height="11.3" fill="#1d8f7b"/>
<line x1="285.0" y1="460.1" x2="285.0" y2="471.4" stroke="#1d8f7b" stroke-width="0.8" opacity="0.9"/>
<rect x="284.10" y="460.5" width="1.8" height="9.7" fill="#1d8f7b"/>
<line x1="287.5" y1="465.2" x2="287.5" y2="475.1" stroke="#dc4654" stroke-width="0.8" opacity="0.9"/>
<rect x="286.60" y="465.4" width="1.8" height="9.2" fill="#dc4654"/>
<line x1="290.0" y1="469.2" x2="290.0" y2="479.8" stroke="#dc4654" stroke-width="0.8" opacity="0.9"/>
<rect x="289.10" y="470.5" width="1.8" height="8.6" fill="#dc4654"/>
<line x1="292.5" y1="473.8" x2="292.5" y2="481.9" stroke="#dc4654" stroke-width="0.8" opacity="0.9"/>
<rect x="291.60" y="474.9" width="1.8" height="6.7" fill="#dc4654"/>
<line x1="292.5" y1="460.2" x2="292.5" y2="472.0" stroke="#1d8f7b" stroke-width="0.8" opacity="0.9"/>
<rect x="291.60" y="462.5" width="1.8" height="8.1" fill="#1d8f7b"/>
<line x1="295.0" y1="456.8" x2="295.0" y2="467.2" stroke="#dc4654" stroke-width="0.8" opacity="0.9"/>
<rect x="294.10" y="457.6" width="1.8" height="7.5" fill="#dc4654"/>
<line x1="297.5" y1="446.8" x2="297.5" y2="457.3" stroke="#1d8f7b" stroke-width="0.8" opacity="0.9"/>
<rect x="296.60" y="448.2" width="1.8" height="8.0" fill="#1d8f7b"/>
<line x1="300.0" y1="439.1" x2="300.0" y2="451.1" stroke="#1d8f7b" stroke-width="0.8" opacity="0.9"/>
<rect x="299.10" y="440.7" width="1.8" height="9.7" fill="#1d8f7b"/>
<line x1="300.0" y1="435.1" x2="300.0" y2="446.7" stroke="#dc4654" stroke-width="0.8" opacity="0.9"/>
<rect x="299.10" y="436.3" width="1.8" height="8.3" fill="#dc4654"/>
<line x1="302.5" y1="440.8" x2="302.5" y2="453.2" stroke="#dc4654" stroke-width="0.8" opacity="0.9"/>
<rect x="301.60" y="442.4" width="1.8" height="9.9" fill="#dc4654"/>
<line x1="305.0" y1="453.6" x2="305.0" y2="468.8" stroke="#dc4654" stroke-width="0.8" opacity="0.9"/>
<rect x="304.10" y="455.5" width="1.8" height="11.5" fill="#dc4654"/>
<line x1="307.5" y1="464.9" x2="307.5" y2="477.7" stroke="#dc4654" stroke-width="0.8" opacity="0.9"/>
<rect x="306.60" y="466.5" width="1.8" height="9.2" fill="#dc4654"/>
<line x1="310.0" y1="460.6" x2="310.0" y2="469.6" stroke="#1d8f7b" stroke-width="0.8" opacity="0.9"/>
<rect x="309.10" y="460.9" width="1.8" height="6.9" fill="#1d8f7b"/>
<line x1="312.5" y1="462.6" x2="312.5" y2="477.0" stroke="#dc4654" stroke-width="0.8" opacity="0.9"/>
<rect x="311.60" y="465.0" width="1.8" height="9.9" fill="#dc4654"/>
<line x1="315.0" y1="455.0" x2="315.0" y2="466.2" stroke="#dc4654" stroke-width="0.8" opacity="0.9"/>
<rect x="314.10" y="457.4" width="1.8" height="8.0" fill="#dc4654"/>
<line x1="317.5" y1="461.1" x2="317.5" y2="471.7" stroke="#1d8f7b" stroke-width="0.8" opacity="0.9"/>
<rect x="316.60" y="463.3" width="1.8" height="7.2" fill="#1d8f7b"/>
<line x1="317.5" y1="451.3" x2="317.5" y2="461.8" stroke="#1d8f7b" stroke-width="0.8" opacity="0.9"/>
<rect x="316.60" y="452.3" width="1.8" height="9.1" fill="#1d8f7b"/>
<line x1="320.0" y1="439.7" x2="320.0" y2="450.8" stroke="#1d8f7b" stroke-width="0.8" opacity="0.9"/>
<rect x="319.10" y="441.1" width="1.8" height="9.3" fill="#1d8f7b"/>
<line x1="322.5" y1="437.2" x2="322.5" y2="443.7" stroke="#1d8f7b" stroke-width="0.8" opacity="0.9"/>
<rect x="321.60" y="437.4" width="1.8" height="4.7" fill="#1d8f7b"/>
<line x1="322.5" y1="411.5" x2="322.5" y2="428.5" stroke="#1d8f7b" stroke-width="0.8" opacity="0.9"/>
<rect x="321.60" y="414.1" width="1.8" height="11.9" fill="#1d8f7b"/>
<line x1="325.0" y1="415.6" x2="325.0" y2="426.3" stroke="#dc4654" stroke-width="0.8" opacity="0.9"/>
<rect x="324.10" y="416.8" width="1.8" height="7.2" fill="#dc4654"/>
<line x1="327.5" y1="414.8" x2="327.5" y2="427.6" stroke="#1d8f7b" stroke-width="0.8" opacity="0.9"/>
<rect x="326.60" y="416.7" width="1.8" height="8.9" fill="#1d8f7b"/>
<line x1="330.0" y1="420.4" x2="330.0" y2="428.2" stroke="#dc4654" stroke-width="0.8" opacity="0.9"/>
<rect x="329.10" y="421.0" width="1.8" height="6.5" fill="#dc4654"/>
<line x1="332.5" y1="425.3" x2="332.5" y2="435.8" stroke="#1d8f7b" stroke-width="0.8" opacity="0.9"/>
<rect x="331.60" y="426.0" width="1.8" height="7.4" fill="#1d8f7b"/>
<line x1="335.0" y1="422.1" x2="335.0" y2="429.2" stroke="#dc4654" stroke-width="0.8" opacity="0.9"/>
<rect x="334.10" y="422.7" width="1.8" height="5.2" fill="#dc4654"/>
<line x1="337.5" y1="428.6" x2="337.5" y2="434.6" stroke="#dc4654" stroke-width="0.8" opacity="0.9"/>
<rect x="336.60" y="428.7" width="1.8" height="5.9" fill="#dc4654"/>
<line x1="340.0" y1="433.9" x2="340.0" y2="446.6" stroke="#1d8f7b" stroke-width="0.8" opacity="0.9"/>
<rect x="339.10" y="434.9" width="1.8" height="9.5" fill="#1d8f7b"/>
<line x1="340.0" y1="426.9" x2="340.0" y2="435.2" stroke="#1d8f7b" stroke-width="0.8" opacity="0.9"/>
<rect x="339.10" y="429.0" width="1.8" height="5.7" fill="#1d8f7b"/>
<line x1="342.5" y1="420.7" x2="342.5" y2="435.3" stroke="#1d8f7b" stroke-width="0.8" opacity="0.9"/>
<rect x="341.60" y="422.3" width="1.8" height="10.9" fill="#1d8f7b"/>
<line x1="345.0" y1="415.7" x2="345.0" y2="425.1" stroke="#dc4654" stroke-width="0.8" opacity="0.9"/>
<rect x="344.10" y="417.6" width="1.8" height="6.6" fill="#dc4654"/>
<line x1="345.0" y1="408.0" x2="345.0" y2="418.8" stroke="#1d8f7b" stroke-width="0.8" opacity="0.9"/>
<rect x="344.10" y="408.1" width="1.8" height="8.0" fill="#1d8f7b"/>
<line x1="347.5" y1="408.9" x2="347.5" y2="420.5" stroke="#1d8f7b" stroke-width="0.8" opacity="0.9"/>
<rect x="346.60" y="411.1" width="1.8" height="7.3" fill="#1d8f7b"/>
<line x1="350.0" y1="414.8" x2="350.0" y2="420.6" stroke="#1d8f7b" stroke-width="0.8" opacity="0.9"/>
<rect x="349.10" y="415.0" width="1.8" height="5.4" fill="#1d8f7b"/>
<line x1="352.5" y1="417.1" x2="352.5" y2="425.9" stroke="#dc4654" stroke-width="0.8" opacity="0.9"/>
<rect x="351.60" y="418.1" width="1.8" height="5.8" fill="#dc4654"/>
<line x1="355.0" y1="414.9" x2="355.0" y2="423.7" stroke="#1d8f7b" stroke-width="0.8" opacity="0.9"/>
<rect x="354.10" y="416.6" width="1.8" height="6.0" fill="#1d8f7b"/>
<line x1="357.5" y1="408.3" x2="357.5" y2="421.1" stroke="#dc4654" stroke-width="0.8" opacity="0.9"/>
<rect x="356.60" y="409.4" width="1.8" height="11.6" fill="#dc4654"/>
<line x1="360.0" y1="402.1" x2="360.0" y2="413.6" stroke="#dc4654" stroke-width="0.8" opacity="0.9"/>
<rect x="359.10" y="402.2" width="1.8" height="9.5" fill="#dc4654"/>
<line x1="362.5" y1="405.1" x2="362.5" y2="417.9" stroke="#dc4654" stroke-width="0.8" opacity="0.9"/>
<rect x="361.60" y="406.2" width="1.8" height="9.3" fill="#dc4654"/>
<line x1="362.5" y1="411.0" x2="362.5" y2="420.6" stroke="#dc4654" stroke-width="0.8" opacity="0.9"/>
<rect x="361.60" y="411.2" width="1.8" height="7.9" fill="#dc4654"/>
<line x1="365.0" y1="420.8" x2="365.0" y2="432.8" stroke="#1d8f7b" stroke-width="0.8" opacity="0.9"/>
<rect x="364.10" y="420.9" width="1.8" height="11.5" fill="#1d8f7b"/>
<line x1="367.5" y1="413.1" x2="367.5" y2="427.1" stroke="#1d8f7b" stroke-width="0.8" opacity="0.9"/>
<rect x="366.60" y="415.5" width="1.8" height="9.6" fill="#1d8f7b"/>
<line x1="367.5" y1="403.5" x2="367.5" y2="415.6" stroke="#1d8f7b" stroke-width="0.8" opacity="0.9"/>
<rect x="366.60" y="404.0" width="1.8" height="11.4" fill="#1d8f7b"/>
<line x1="370.0" y1="393.8" x2="370.0" y2="407.3" stroke="#dc4654" stroke-width="0.8" opacity="0.9"/>
<rect x="369.10" y="395.9" width="1.8" height="10.6" fill="#dc4654"/>
<line x1="370.0" y1="391.9" x2="370.0" y2="401.7" stroke="#dc4654" stroke-width="0.8" opacity="0.9"/>
<rect x="369.10" y="392.7" width="1.8" height="7.3" fill="#dc4654"/>
<line x1="372.5" y1="386.1" x2="372.5" y2="396.6" stroke="#dc4654" stroke-width="0.8" opacity="0.9"/>
<rect x="371.60" y="387.9" width="1.8" height="6.4" fill="#dc4654"/>
<line x1="375.0" y1="382.4" x2="375.0" y2="393.0" stroke="#1d8f7b" stroke-width="0.8" opacity="0.9"/>
<rect x="374.10" y="384.0" width="1.8" height="8.5" fill="#1d8f7b"/>
<line x1="377.5" y1="391.3" x2="377.5" y2="405.4" stroke="#dc4654" stroke-width="0.8" opacity="0.9"/>
<rect x="376.60" y="393.8" width="1.8" height="11.2" fill="#dc4654"/>
<line x1="380.0" y1="404.7" x2="380.0" y2="415.2" stroke="#1d8f7b" stroke-width="0.8" opacity="0.9"/>
<rect x="379.10" y="406.9" width="1.8" height="7.8" fill="#1d8f7b"/>
<line x1="382.5" y1="410.8" x2="382.5" y2="422.6" stroke="#1d8f7b" stroke-width="0.8" opacity="0.9"/>
<rect x="381.60" y="412.5" width="1.8" height="9.3" fill="#1d8f7b"/>
<line x1="382.5" y1="415.2" x2="382.5" y2="426.7" stroke="#dc4654" stroke-width="0.8" opacity="0.9"/>
<rect x="381.60" y="417.2" width="1.8" height="7.8" fill="#dc4654"/>
<line x1="385.0" y1="410.4" x2="385.0" y2="420.3" stroke="#1d8f7b" stroke-width="0.8" opacity="0.9"/>
<rect x="384.10" y="411.3" width="1.8" height="7.6" fill="#1d8f7b"/>
<line x1="385.0" y1="401.0" x2="385.0" y2="411.6" stroke="#dc4654" stroke-width="0.8" opacity="0.9"/>
<rect x="384.10" y="402.2" width="1.8" height="8.3" fill="#dc4654"/>
<line x1="387.5" y1="385.3" x2="387.5" y2="400.2" stroke="#dc4654" stroke-width="0.8" opacity="0.9"/>
<rect x="386.60" y="387.4" width="1.8" height="11.7" fill="#dc4654"/>
<line x1="390.0" y1="375.3" x2="390.0" y2="385.1" stroke="#1d8f7b" stroke-width="0.8" opacity="0.9"/>
<rect x="389.10" y="376.2" width="1.8" height="6.8" fill="#1d8f7b"/>
<line x1="420.0" y1="263.2" x2="420.0" y2="276.9" stroke="#1d8f7b" stroke-width="0.8" opacity="0.9"/>
<rect x="419.10" y="263.6" width="1.8" height="10.9" fill="#1d8f7b"/>
<line x1="420.0" y1="255.9" x2="420.0" y2="270.6" stroke="#1d8f7b" stroke-width="0.8" opacity="0.9"/>
<rect x="419.10" y="257.8" width="1.8" height="10.4" fill="#1d8f7b"/>
<line x1="422.5" y1="249.1" x2="422.5" y2="257.6" stroke="#1d8f7b" stroke-width="0.8" opacity="0.9"/>
<rect x="421.60" y="249.1" width="1.8" height="8.2" fill="#1d8f7b"/>
<line x1="435.0" y1="158.4" x2="435.0" y2="172.2" stroke="#1d8f7b" stroke-width="0.8" opacity="0.9"/>
<rect x="434.10" y="158.8" width="1.8" height="11.1" fill="#1d8f7b"/>
<line x1="437.5" y1="143.8" x2="437.5" y2="158.3" stroke="#dc4654" stroke-width="0.8" opacity="0.9"/>
<rect x="436.60" y="145.6" width="1.8" height="10.8" fill="#dc4654"/>
<line x1="440.0" y1="135.8" x2="440.0" y2="147.4" stroke="#1d8f7b" stroke-width="0.8" opacity="0.9"/>
<rect x="439.10" y="136.4" width="1.8" height="10.1" fill="#1d8f7b"/>
<line x1="440.0" y1="128.2" x2="440.0" y2="144.8" stroke="#1d8f7b" stroke-width="0.8" opacity="0.9"/>
<rect x="439.10" y="129.4" width="1.8" height="14.7" fill="#1d8f7b"/>
<line x1="442.5" y1="132.7" x2="442.5" y2="146.5" stroke="#dc4654" stroke-width="0.8" opacity="0.9"/>
<rect x="441.60" y="134.4" width="1.8" height="11.5" fill="#dc4654"/>
<line x1="445.0" y1="134.6" x2="445.0" y2="146.9" stroke="#1d8f7b" stroke-width="0.8" opacity="0.9"/>
<rect x="444.10" y="136.3" width="1.8" height="9.9" fill="#1d8f7b"/>
<line x1="445.0" y1="128.8" x2="445.0" y2="141.0" stroke="#dc4654" stroke-width="0.8" opacity="0.9"/>
<rect x="444.10" y="129.5" width="1.8" height="9.5" fill="#dc4654"/>
<line x1="447.5" y1="122.9" x2="447.5" y2="139.1" stroke="#1d8f7b" stroke-width="0.8" opacity="0.9"/>
<rect x="446.60" y="124.1" width="1.8" height="13.6" fill="#1d8f7b"/>
<line x1="450.0" y1="132.1" x2="450.0" y2="149.5" stroke="#dc4654" stroke-width="0.8" opacity="0.9"/>
<rect x="449.10" y="133.5" width="1.8" height="13.8" fill="#dc4654"/>
<line x1="450.0" y1="149.6" x2="450.0" y2="161.1" stroke="#1d8f7b" stroke-width="0.8" opacity="0.9"/>
<rect x="449.10" y="150.5" width="1.8" height="10.2" fill="#1d8f7b"/>
<line x1="452.5" y1="143.5" x2="452.5" y2="156.3" stroke="#dc4654" stroke-width="0.8" opacity="0.9"/>
<rect x="451.60" y="145.1" width="1.8" height="8.7" fill="#dc4654"/>
<line x1="455.0" y1="149.0" x2="455.0" y2="167.7" stroke="#1d8f7b" stroke-width="0.8" opacity="0.9"/>
<rect x="454.10" y="151.5" width="1.8" height="13.9" fill="#1d8f7b"/>
<line x1="455.0" y1="149.4" x2="455.0" y2="161.8" stroke="#1d8f7b" stroke-width="0.8" opacity="0.9"/>
<rect x="454.10" y="151.3" width="1.8" height="8.6" fill="#1d8f7b"/>
<line x1="462.5" y1="132.1" x2="462.5" y2="144.6" stroke="#1d8f7b" stroke-width="0.8" opacity="0.9"/>
<rect x="461.60" y="133.2" width="1.8" height="10.4" fill="#1d8f7b"/>
<line x1="465.0" y1="135.6" x2="465.0" y2="149.6" stroke="#dc4654" stroke-width="0.8" opacity="0.9"/>
<rect x="464.10" y="137.2" width="1.8" height="12.3" fill="#dc4654"/>
<line x1="467.5" y1="136.8" x2="467.5" y2="150.1" stroke="#dc4654" stroke-width="0.8" opacity="0.9"/>
<rect x="466.60" y="138.2" width="1.8" height="10.5" fill="#dc4654"/>
<line x1="467.5" y1="143.6" x2="467.5" y2="158.5" stroke="#dc4654" stroke-width="0.8" opacity="0.9"/>
<rect x="466.60" y="144.6" width="1.8" height="11.8" fill="#dc4654"/>
<line x1="470.0" y1="147.3" x2="470.0" y2="159.2" stroke="#1d8f7b" stroke-width="0.8" opacity="0.9"/>
<rect x="469.10" y="149.1" width="1.8" height="8.9" fill="#1d8f7b"/>
<line x1="472.5" y1="151.9" x2="472.5" y2="168.5" stroke="#1d8f7b" stroke-width="0.8" opacity="0.9"/>
<rect x="471.60" y="152.6" width="1.8" height="13.8" fill="#1d8f7b"/>
<line x1="475.0" y1="171.5" x2="475.0" y2="183.3" stroke="#1d8f7b" stroke-width="0.8" opacity="0.9"/>
<rect x="474.10" y="173.8" width="1.8" height="8.0" fill="#1d8f7b"/>
<line x1="477.5" y1="176.5" x2="477.5" y2="193.4" stroke="#dc4654" stroke-width="0.8" opacity="0.9"/>
<rect x="476.60" y="177.8" width="1.8" height="15.2" fill="#dc4654"/>
<line x1="480.0" y1="185.5" x2="480.0" y2="195.6" stroke="#dc4654" stroke-width="0.8" opacity="0.9"/>
<rect x="479.10" y="186.0" width="1.8" height="9.1" fill="#dc4654"/>
<line x1="480.0" y1="197.1" x2="480.0" y2="209.9" stroke="#dc4654" stroke-width="0.8" opacity="0.9"/>
<rect x="479.10" y="198.8" width="1.8" height="10.6" fill="#dc4654"/>
<line x1="482.5" y1="198.1" x2="482.5" y2="212.6" stroke="#1d8f7b" stroke-width="0.8" opacity="0.9"/>
<rect x="481.60" y="199.8" width="1.8" height="11.7" fill="#1d8f7b"/>
<line x1="485.0" y1="203.4" x2="485.0" y2="220.7" stroke="#dc4654" stroke-width="0.8" opacity="0.9"/>
<rect x="484.10" y="205.0" width="1.8" height="13.1" fill="#dc4654"/>
<line x1="487.5" y1="208.7" x2="487.5" y2="223.7" stroke="#dc4654" stroke-width="0.8" opacity="0.9"/>
<rect x="486.60" y="209.7" width="1.8" height="12.9" fill="#dc4654"/>
<line x1="487.5" y1="217.2" x2="487.5" y2="231.9" stroke="#dc4654" stroke-width="0.8" opacity="0.9"/>
<rect x="486.60" y="217.7" width="1.8" height="11.6" fill="#dc4654"/>
<line x1="490.0" y1="202.6" x2="490.0" y2="219.8" stroke="#1d8f7b" stroke-width="0.8" opacity="0.9"/>
<rect x="489.10" y="204.9" width="1.8" height="12.4" fill="#1d8f7b"/>
<line x1="490.0" y1="204.7" x2="490.0" y2="216.5" stroke="#dc4654" stroke-width="0.8" opacity="0.9"/>
<rect x="489.10" y="206.4" width="1.8" height="8.3" fill="#dc4654"/>
<line x1="492.5" y1="206.6" x2="492.5" y2="223.8" stroke="#1d8f7b" stroke-width="0.8" opacity="0.9"/>
<rect x="491.60" y="207.4" width="1.8" height="13.9" fill="#1d8f7b"/>
<line x1="495.0" y1="215.9" x2="495.0" y2="228.6" stroke="#1d8f7b" stroke-width="0.8" opacity="0.9"/>
<rect x="494.10" y="216.4" width="1.8" height="9.9" fill="#1d8f7b"/>
<line x1="495.0" y1="208.0" x2="495.0" y2="221.5" stroke="#1d8f7b" stroke-width="0.8" opacity="0.9"/>
<rect x="494.10" y="210.4" width="1.8" height="10.6" fill="#1d8f7b"/>
<line x1="497.5" y1="201.5" x2="497.5" y2="219.8" stroke="#1d8f7b" stroke-width="0.8" opacity="0.9"/>
<rect x="496.60" y="203.7" width="1.8" height="13.7" fill="#1d8f7b"/>
<line x1="500.0" y1="191.5" x2="500.0" y2="209.3" stroke="#1d8f7b" stroke-width="0.8" opacity="0.9"/>
<rect x="499.10" y="192.7" width="1.8" height="15.2" fill="#1d8f7b"/>
<line x1="500.0" y1="181.5" x2="500.0" y2="196.7" stroke="#1d8f7b" stroke-width="0.8" opacity="0.9"/>
<rect x="499.10" y="182.1" width="1.8" height="12.3" fill="#1d8f7b"/>
<line x1="502.5" y1="197.2" x2="502.5" y2="209.5" stroke="#dc4654" stroke-width="0.8" opacity="0.9"/>
<rect x="501.60" y="198.7" width="1.8" height="10.3" fill="#dc4654"/>
<line x1="505.0" y1="202.8" x2="505.0" y2="214.6" stroke="#1d8f7b" stroke-width="0.8" opacity="0.9"/>
<rect x="504.10" y="203.2" width="1.8" height="8.8" fill="#1d8f7b"/>
<line x1="507.5" y1="213.3" x2="507.5" y2="224.0" stroke="#dc4654" stroke-width="0.8" opacity="0.9"/>
<rect x="506.60" y="214.9" width="1.8" height="9.0" fill="#dc4654"/>
<line x1="510.0" y1="216.5" x2="510.0" y2="228.1" stroke="#1d8f7b" stroke-width="0.8" opacity="0.9"/>
<rect x="509.10" y="218.5" width="1.8" height="9.1" fill="#1d8f7b"/>
<line x1="512.5" y1="228.2" x2="512.5" y2="242.8" stroke="#1d8f7b" stroke-width="0.8" opacity="0.9"/>
<rect x="511.60" y="230.5" width="1.8" height="10.3" fill="#1d8f7b"/>
<line x1="515.0" y1="239.1" x2="515.0" y2="250.6" stroke="#dc4654" stroke-width="0.8" opacity="0.9"/>
<rect x="514.10" y="239.6" width="1.8" height="10.9" fill="#dc4654"/>
<line x1="517.5" y1="245.5" x2="517.5" y2="259.9" stroke="#1d8f7b" stroke-width="0.8" opacity="0.9"/>
<rect x="516.60" y="245.7" width="1.8" height="12.2" fill="#1d8f7b"/>
<line x1="517.5" y1="248.8" x2="517.5" y2="264.0" stroke="#1d8f7b" stroke-width="0.8" opacity="0.9"/>
<rect x="516.60" y="250.9" width="1.8" height="11.5" fill="#1d8f7b"/>
<line x1="520.0" y1="240.5" x2="520.0" y2="253.1" stroke="#1d8f7b" stroke-width="0.8" opacity="0.9"/>
<rect x="519.10" y="241.4" width="1.8" height="9.3" fill="#1d8f7b"/>
<line x1="520.0" y1="230.1" x2="520.0" y2="245.1" stroke="#dc4654" stroke-width="0.8" opacity="0.9"/>
<rect x="519.10" y="232.1" width="1.8" height="11.4" fill="#dc4654"/>
<line x1="522.5" y1="222.3" x2="522.5" y2="233.5" stroke="#dc4654" stroke-width="0.8" opacity="0.9"/>
<rect x="521.60" y="224.3" width="1.8" height="9.1" fill="#dc4654"/>
<line x1="525.0" y1="213.1" x2="525.0" y2="223.5" stroke="#1d8f7b" stroke-width="0.8" opacity="0.9"/>
<rect x="524.10" y="213.2" width="1.8" height="8.8" fill="#1d8f7b"/>
<line x1="527.5" y1="196.0" x2="527.5" y2="210.4" stroke="#1d8f7b" stroke-width="0.8" opacity="0.9"/>
<rect x="526.60" y="196.7" width="1.8" height="12.6" fill="#1d8f7b"/>
<line x1="530.0" y1="184.2" x2="530.0" y2="193.7" stroke="#dc4654" stroke-width="0.8" opacity="0.9"/>
<rect x="529.10" y="184.4" width="1.8" height="8.5" fill="#dc4654"/>
<line x1="532.5" y1="169.8" x2="532.5" y2="184.9" stroke="#dc4654" stroke-width="0.8" opacity="0.9"/>
<rect x="531.60" y="172.3" width="1.8" height="11.1" fill="#dc4654"/>
<line x1="535.0" y1="160.1" x2="535.0" y2="172.3" stroke="#1d8f7b" stroke-width="0.8" opacity="0.9"/>
<rect x="534.10" y="161.6" width="1.8" height="10.2" fill="#1d8f7b"/>
<line x1="537.5" y1="158.4" x2="537.5" y2="177.0" stroke="#dc4654" stroke-width="0.8" opacity="0.9"/>
<rect x="536.60" y="158.8" width="1.8" height="15.8" fill="#dc4654"/>
<line x1="540.0" y1="167.8" x2="540.0" y2="184.0" stroke="#1d8f7b" stroke-width="0.8" opacity="0.9"/>
<rect x="539.10" y="169.3" width="1.8" height="14.4" fill="#1d8f7b"/>
<line x1="542.5" y1="175.0" x2="542.5" y2="189.2" stroke="#1d8f7b" stroke-width="0.8" opacity="0.9"/>
<rect x="541.60" y="177.3" width="1.8" height="9.9" fill="#1d8f7b"/>
<line x1="542.5" y1="182.7" x2="542.5" y2="198.5" stroke="#dc4654" stroke-width="0.8" opacity="0.9"/>
<rect x="541.60" y="183.7" width="1.8" height="14.0" fill="#dc4654"/>
<line x1="545.0" y1="183.0" x2="545.0" y2="197.6" stroke="#dc4654" stroke-width="0.8" opacity="0.9"/>
<rect x="544.10" y="185.6" width="1.8" height="10.4" fill="#dc4654"/>
<line x1="547.5" y1="200.2" x2="547.5" y2="211.3" stroke="#dc4654" stroke-width="0.8" opacity="0.9"/>
<rect x="546.60" y="202.0" width="1.8" height="7.7" fill="#dc4654"/>
<line x1="550.0" y1="201.9" x2="550.0" y2="217.4" stroke="#dc4654" stroke-width="0.8" opacity="0.9"/>
<rect x="549.10" y="204.1" width="1.8" height="12.1" fill="#dc4654"/>
<line x1="550.0" y1="211.5" x2="550.0" y2="225.5" stroke="#dc4654" stroke-width="0.8" opacity="0.9"/>
<rect x="549.10" y="213.3" width="1.8" height="11.6" fill="#dc4654"/>
<line x1="552.5" y1="222.7" x2="552.5" y2="229.5" stroke="#dc4654" stroke-width="0.8" opacity="0.9"/>
<rect x="551.60" y="224.4" width="1.8" height="3.3" fill="#dc4654"/>
<line x1="575.0" y1="222.6" x2="575.0" y2="231.7" stroke="#1d8f7b" stroke-width="0.8" opacity="0.9"/>
<rect x="574.10" y="224.5" width="1.8" height="5.0" fill="#1d8f7b"/>
<line x1="577.5" y1="220.0" x2="577.5" y2="231.8" stroke="#1d8f7b" stroke-width="0.8" opacity="0.9"/>
<rect x="576.60" y="221.9" width="1.8" height="8.3" fill="#1d8f7b"/>
<line x1="577.5" y1="223.5" x2="577.5" y2="232.0" stroke="#dc4654" stroke-width="0.8" opacity="0.9"/>
<rect x="576.60" y="226.0" width="1.8" height="5.4" fill="#dc4654"/>
<line x1="602.5" y1="272.3" x2="602.5" y2="281.6" stroke="#1d8f7b" stroke-width="0.8" opacity="0.9"/>
<rect x="601.60" y="272.7" width="1.8" height="7.2" fill="#1d8f7b"/>
<line x1="605.0" y1="267.6" x2="605.0" y2="275.2" stroke="#1d8f7b" stroke-width="0.8" opacity="0.9"/>
<rect x="604.10" y="268.4" width="1.8" height="6.0" fill="#1d8f7b"/>
<line x1="607.5" y1="265.9" x2="607.5" y2="273.9" stroke="#1d8f7b" stroke-width="0.8" opacity="0.9"/>
<rect x="606.60" y="266.6" width="1.8" height="5.0" fill="#1d8f7b"/>
<line x1="610.0" y1="274.6" x2="610.0" y2="282.3" stroke="#1d8f7b" stroke-width="0.8" opacity="0.9"/>
<rect x="609.10" y="275.7" width="1.8" height="5.9" fill="#1d8f7b"/>
<line x1="610.0" y1="285.1" x2="610.0" y2="293.8" stroke="#dc4654" stroke-width="0.8" opacity="0.9"/>
<rect x="609.10" y="285.8" width="1.8" height="6.1" fill="#dc4654"/>
<line x1="612.5" y1="282.2" x2="612.5" y2="291.5" stroke="#dc4654" stroke-width="0.8" opacity="0.9"/>
<rect x="611.60" y="284.0" width="1.8" height="5.9" fill="#dc4654"/>
<line x1="615.0" y1="280.8" x2="615.0" y2="292.9" stroke="#dc4654" stroke-width="0.8" opacity="0.9"/>
<rect x="614.10" y="282.5" width="1.8" height="8.1" fill="#dc4654"/>
<line x1="615.0" y1="274.9" x2="615.0" y2="283.4" stroke="#dc4654" stroke-width="0.8" opacity="0.9"/>
<rect x="614.10" y="275.4" width="1.8" height="7.7" fill="#dc4654"/>
<line x1="617.5" y1="277.3" x2="617.5" y2="286.2" stroke="#dc4654" stroke-width="0.8" opacity="0.9"/>
<rect x="616.60" y="279.6" width="1.8" height="6.0" fill="#dc4654"/>
<line x1="620.0" y1="267.8" x2="620.0" y2="280.2" stroke="#1d8f7b" stroke-width="0.8" opacity="0.9"/>
<rect x="619.10" y="270.1" width="1.8" height="8.9" fill="#1d8f7b"/>
<line x1="620.0" y1="260.4" x2="620.0" y2="273.2" stroke="#dc4654" stroke-width="0.8" opacity="0.9"/>
<rect x="619.10" y="262.1" width="1.8" height="8.8" fill="#dc4654"/>
<line x1="622.5" y1="271.0" x2="622.5" y2="281.8" stroke="#dc4654" stroke-width="0.8" opacity="0.9"/>
<rect x="621.60" y="273.2" width="1.8" height="6.2" fill="#dc4654"/>
<line x1="625.0" y1="276.9" x2="625.0" y2="283.8" stroke="#dc4654" stroke-width="0.8" opacity="0.9"/>
<rect x="624.10" y="277.5" width="1.8" height="4.5" fill="#dc4654"/>
<line x1="627.5" y1="278.3" x2="627.5" y2="286.0" stroke="#1d8f7b" stroke-width="0.8" opacity="0.9"/>
<rect x="626.60" y="280.5" width="1.8" height="4.3" fill="#1d8f7b"/>
<line x1="630.0" y1="268.8" x2="630.0" y2="277.5" stroke="#1d8f7b" stroke-width="0.8" opacity="0.9"/>
<rect x="629.10" y="270.9" width="1.8" height="5.6" fill="#1d8f7b"/>
<line x1="632.5" y1="263.8" x2="632.5" y2="273.9" stroke="#1d8f7b" stroke-width="0.8" opacity="0.9"/>
<rect x="631.60" y="266.3" width="1.8" height="7.1" fill="#1d8f7b"/>
<line x1="635.0" y1="259.6" x2="635.0" y2="270.1" stroke="#1d8f7b" stroke-width="0.8" opacity="0.9"/>
<rect x="634.10" y="261.5" width="1.8" height="7.0" fill="#1d8f7b"/>
<line x1="637.5" y1="260.9" x2="637.5" y2="266.5" stroke="#1d8f7b" stroke-width="0.8" opacity="0.9"/>
<rect x="636.60" y="261.9" width="1.8" height="4.5" fill="#1d8f7b"/>
<line x1="640.0" y1="257.6" x2="640.0" y2="266.9" stroke="#1d8f7b" stroke-width="0.8" opacity="0.9"/>
<rect x="639.10" y="259.2" width="1.8" height="5.9" fill="#1d8f7b"/>
<line x1="642.5" y1="260.4" x2="642.5" y2="266.7" stroke="#dc4654" stroke-width="0.8" opacity="0.9"/>
<rect x="641.60" y="261.2" width="1.8" height="4.5" fill="#dc4654"/>
<line x1="645.0" y1="259.3" x2="645.0" y2="270.1" stroke="#dc4654" stroke-width="0.8" opacity="0.9"/>
<rect x="644.10" y="261.8" width="1.8" height="7.1" fill="#dc4654"/>
<line x1="647.5" y1="250.5" x2="647.5" y2="261.5" stroke="#1d8f7b" stroke-width="0.8" opacity="0.9"/>
<rect x="646.60" y="252.6" width="1.8" height="8.4" fill="#1d8f7b"/>
<line x1="650.0" y1="242.7" x2="650.0" y2="252.8" stroke="#1d8f7b" stroke-width="0.8" opacity="0.9"/>
<rect x="649.10" y="244.8" width="1.8" height="7.6" fill="#1d8f7b"/>
<line x1="652.5" y1="241.4" x2="652.5" y2="251.9" stroke="#1d8f7b" stroke-width="0.8" opacity="0.9"/>
<rect x="651.60" y="243.4" width="1.8" height="7.4" fill="#1d8f7b"/>
<line x1="655.0" y1="241.8" x2="655.0" y2="252.0" stroke="#1d8f7b" stroke-width="0.8" opacity="0.9"/>
<rect x="654.10" y="243.5" width="1.8" height="6.5" fill="#1d8f7b"/>
<line x1="657.5" y1="237.8" x2="657.5" y2="248.0" stroke="#1d8f7b" stroke-width="0.8" opacity="0.9"/>
<rect x="656.60" y="239.6" width="1.8" height="6.6" fill="#1d8f7b"/>
<line x1="660.0" y1="236.6" x2="660.0" y2="247.0" stroke="#1d8f7b" stroke-width="0.8" opacity="0.9"/>
<rect x="659.10" y="238.7" width="1.8" height="6.2" fill="#1d8f7b"/>
<line x1="662.5" y1="226.4" x2="662.5" y2="236.7" stroke="#1d8f7b" stroke-width="0.8" opacity="0.9"/>
<rect x="661.60" y="227.6" width="1.8" height="7.4" fill="#1d8f7b"/>
<line x1="662.5" y1="215.5" x2="662.5" y2="225.6" stroke="#dc4654" stroke-width="0.8" opacity="0.9"/>
<rect x="661.60" y="216.3" width="1.8" height="8.3" fill="#dc4654"/>
<line x1="665.0" y1="218.0" x2="665.0" y2="230.1" stroke="#dc4654" stroke-width="0.8" opacity="0.9"/>
<rect x="664.10" y="220.5" width="1.8" height="8.3" fill="#dc4654"/>
<line x1="667.5" y1="226.6" x2="667.5" y2="236.2" stroke="#dc4654" stroke-width="0.8" opacity="0.9"/>
<rect x="666.60" y="227.1" width="1.8" height="8.9" fill="#dc4654"/>
<line x1="667.5" y1="221.2" x2="667.5" y2="231.1" stroke="#1d8f7b" stroke-width="0.8" opacity="0.9"/>
<rect x="666.60" y="223.4" width="1.8" height="7.2" fill="#1d8f7b"/>
<line x1="670.0" y1="219.7" x2="670.0" y2="229.3" stroke="#dc4654" stroke-width="0.8" opacity="0.9"/>
<rect x="669.10" y="220.7" width="1.8" height="7.2" fill="#dc4654"/>
<line x1="672.5" y1="226.5" x2="672.5" y2="236.6" stroke="#1d8f7b" stroke-width="0.8" opacity="0.9"/>
<rect x="671.60" y="226.7" width="1.8" height="7.5" fill="#1d8f7b"/>
<line x1="675.0" y1="231.3" x2="675.0" y2="240.4" stroke="#dc4654" stroke-width="0.8" opacity="0.9"/>
<rect x="674.10" y="232.6" width="1.8" height="7.3" fill="#dc4654"/>
<line x1="677.5" y1="235.1" x2="677.5" y2="245.8" stroke="#1d8f7b" stroke-width="0.8" opacity="0.9"/>
<rect x="676.60" y="235.4" width="1.8" height="10.1" fill="#1d8f7b"/>
<line x1="680.0" y1="238.5" x2="680.0" y2="250.6" stroke="#dc4654" stroke-width="0.8" opacity="0.9"/>
<rect x="679.10" y="239.9" width="1.8" height="9.4" fill="#dc4654"/>
<line x1="682.5" y1="244.7" x2="682.5" y2="255.9" stroke="#dc4654" stroke-width="0.8" opacity="0.9"/>
<rect x="681.60" y="245.4" width="1.8" height="10.1" fill="#dc4654"/>
<line x1="685.0" y1="242.2" x2="685.0" y2="253.8" stroke="#1d8f7b" stroke-width="0.8" opacity="0.9"/>
<rect x="684.10" y="243.0" width="1.8" height="9.0" fill="#1d8f7b"/>
<line x1="685.0" y1="239.1" x2="685.0" y2="249.4" stroke="#dc4654" stroke-width="0.8" opacity="0.9"/>
<rect x="684.10" y="240.2" width="1.8" height="6.6" fill="#dc4654"/>
<line x1="687.5" y1="244.9" x2="687.5" y2="252.8" stroke="#dc4654" stroke-width="0.8" opacity="0.9"/>
<rect x="686.60" y="246.6" width="1.8" height="6.2" fill="#dc4654"/>
<line x1="690.0" y1="245.1" x2="690.0" y2="255.1" stroke="#1d8f7b" stroke-width="0.8" opacity="0.9"/>
<rect x="689.10" y="247.2" width="1.8" height="7.7" fill="#1d8f7b"/>
<line x1="692.5" y1="252.5" x2="692.5" y2="261.9" stroke="#dc4654" stroke-width="0.8" opacity="0.9"/>
<rect x="691.60" y="253.1" width="1.8" height="7.8" fill="#dc4654"/>
<line x1="695.0" y1="254.9" x2="695.0" y2="262.7" stroke="#1d8f7b" stroke-width="0.8" opacity="0.9"/>
<rect x="694.10" y="255.8" width="1.8" height="4.9" fill="#1d8f7b"/>
<line x1="697.5" y1="259.1" x2="697.5" y2="269.0" stroke="#dc4654" stroke-width="0.8" opacity="0.9"/>
<rect x="696.60" y="260.0" width="1.8" height="8.3" fill="#dc4654"/>
<line x1="700.0" y1="261.1" x2="700.0" y2="269.8" stroke="#dc4654" stroke-width="0.8" opacity="0.9"/>
<rect x="699.10" y="262.3" width="1.8" height="6.6" fill="#dc4654"/>
<line x1="702.5" y1="270.5" x2="702.5" y2="281.2" stroke="#dc4654" stroke-width="0.8" opacity="0.9"/>
<rect x="701.60" y="271.1" width="1.8" height="8.9" fill="#dc4654"/>
<line x1="702.5" y1="272.4" x2="702.5" y2="281.0" stroke="#dc4654" stroke-width="0.8" opacity="0.9"/>
<rect x="701.60" y="272.7" width="1.8" height="5.7" fill="#dc4654"/>
<line x1="705.0" y1="264.9" x2="705.0" y2="276.0" stroke="#1d8f7b" stroke-width="0.8" opacity="0.9"/>
<rect x="704.10" y="266.3" width="1.8" height="8.6" fill="#1d8f7b"/>
<line x1="707.5" y1="261.8" x2="707.5" y2="270.0" stroke="#dc4654" stroke-width="0.8" opacity="0.9"/>
<rect x="706.60" y="261.9" width="1.8" height="5.9" fill="#dc4654"/>
<line x1="710.0" y1="262.5" x2="710.0" y2="272.4" stroke="#dc4654" stroke-width="0.8" opacity="0.9"/>
<rect x="709.10" y="263.8" width="1.8" height="7.1" fill="#dc4654"/>
<line x1="712.5" y1="265.2" x2="712.5" y2="273.9" stroke="#1d8f7b" stroke-width="0.8" opacity="0.9"/>
<rect x="711.60" y="267.0" width="1.8" height="4.6" fill="#1d8f7b"/>
<line x1="715.0" y1="267.8" x2="715.0" y2="274.2" stroke="#1d8f7b" stroke-width="0.8" opacity="0.9"/>
<rect x="714.10" y="269.5" width="1.8" height="4.3" fill="#1d8f7b"/>
<line x1="715.0" y1="273.6" x2="715.0" y2="282.5" stroke="#1d8f7b" stroke-width="0.8" opacity="0.9"/>
<rect x="714.10" y="273.9" width="1.8" height="6.1" fill="#1d8f7b"/>
<line x1="717.5" y1="267.2" x2="717.5" y2="276.7" stroke="#1d8f7b" stroke-width="0.8" opacity="0.9"/>
<rect x="716.60" y="268.0" width="1.8" height="6.8" fill="#1d8f7b"/>
<line x1="720.0" y1="268.9" x2="720.0" y2="275.7" stroke="#dc4654" stroke-width="0.8" opacity="0.9"/>
<rect x="719.10" y="269.0" width="1.8" height="5.2" fill="#dc4654"/>
<line x1="722.5" y1="267.4" x2="722.5" y2="277.9" stroke="#dc4654" stroke-width="0.8" opacity="0.9"/>
<rect x="721.60" y="268.8" width="1.8" height="6.9" fill="#dc4654"/>
<line x1="725.0" y1="272.1" x2="725.0" y2="278.3" stroke="#1d8f7b" stroke-width="0.8" opacity="0.9"/>
<rect x="724.10" y="273.2" width="1.8" height="4.9" fill="#1d8f7b"/>
<line x1="727.5" y1="273.0" x2="727.5" y2="281.1" stroke="#1d8f7b" stroke-width="0.8" opacity="0.9"/>
<rect x="726.60" y="274.7" width="1.8" height="6.0" fill="#1d8f7b"/>
<line x1="730.0" y1="277.0" x2="730.0" y2="286.4" stroke="#dc4654" stroke-width="0.8" opacity="0.9"/>
<rect x="729.10" y="278.2" width="1.8" height="5.8" fill="#dc4654"/>
<line x1="730.0" y1="281.7" x2="730.0" y2="292.5" stroke="#dc4654" stroke-width="0.8" opacity="0.9"/>
<rect x="729.10" y="283.4" width="1.8" height="6.6" fill="#dc4654"/>
<line x1="732.5" y1="290.0" x2="732.5" y2="298.7" stroke="#1d8f7b" stroke-width="0.8" opacity="0.9"/>
<rect x="731.60" y="291.2" width="1.8" height="6.8" fill="#1d8f7b"/>
<line x1="735.0" y1="280.6" x2="735.0" y2="290.7" stroke="#dc4654" stroke-width="0.8" opacity="0.9"/>
<rect x="734.10" y="283.0" width="1.8" height="6.7" fill="#dc4654"/>
<line x1="735.0" y1="276.4" x2="735.0" y2="286.6" stroke="#1d8f7b" stroke-width="0.8" opacity="0.9"/>
<rect x="734.10" y="278.3" width="1.8" height="7.5" fill="#1d8f7b"/>
<line x1="737.5" y1="272.3" x2="737.5" y2="283.3" stroke="#dc4654" stroke-width="0.8" opacity="0.9"/>
<rect x="736.60" y="274.6" width="1.8" height="6.3" fill="#dc4654"/>
<line x1="740.0" y1="270.1" x2="740.0" y2="276.4" stroke="#1d8f7b" stroke-width="0.8" opacity="0.9"/>
<rect x="739.10" y="270.3" width="1.8" height="3.9" fill="#1d8f7b"/>
<line x1="742.5" y1="271.2" x2="742.5" y2="277.8" stroke="#dc4654" stroke-width="0.8" opacity="0.9"/>
<rect x="741.60" y="272.2" width="1.8" height="4.8" fill="#dc4654"/>
<line x1="745.0" y1="268.2" x2="745.0" y2="277.6" stroke="#1d8f7b" stroke-width="0.8" opacity="0.9"/>
<rect x="744.10" y="270.4" width="1.8" height="5.7" fill="#1d8f7b"/>
<line x1="747.5" y1="265.9" x2="747.5" y2="275.4" stroke="#1d8f7b" stroke-width="0.8" opacity="0.9"/>
<rect x="746.60" y="267.8" width="1.8" height="6.3" fill="#1d8f7b"/>
<line x1="750.0" y1="263.9" x2="750.0" y2="272.5" stroke="#dc4654" stroke-width="0.8" opacity="0.9"/>
<rect x="749.10" y="266.4" width="1.8" height="5.7" fill="#dc4654"/>
<line x1="750.0" y1="270.3" x2="750.0" y2="277.8" stroke="#1d8f7b" stroke-width="0.8" opacity="0.9"/>
<rect x="749.10" y="271.5" width="1.8" height="5.6" fill="#1d8f7b"/>
<line x1="752.5" y1="272.7" x2="752.5" y2="282.3" stroke="#dc4654" stroke-width="0.8" opacity="0.9"/>
<rect x="751.60" y="274.3" width="1.8" height="6.2" fill="#dc4654"/>
<line x1="755.0" y1="279.3" x2="755.0" y2="289.0" stroke="#1d8f7b" stroke-width="0.8" opacity="0.9"/>
<rect x="754.10" y="281.2" width="1.8" height="7.8" fill="#1d8f7b"/>
<line x1="755.0" y1="283.1" x2="755.0" y2="294.3" stroke="#dc4654" stroke-width="0.8" opacity="0.9"/>
<rect x="754.10" y="285.6" width="1.8" height="8.0" fill="#dc4654"/>
<line x1="757.5" y1="293.9" x2="757.5" y2="303.2" stroke="#1d8f7b" stroke-width="0.8" opacity="0.9"/>
<rect x="756.60" y="294.5" width="1.8" height="7.5" fill="#1d8f7b"/>
<line x1="760.0" y1="304.3" x2="760.0" y2="314.3" stroke="#dc4654" stroke-width="0.8" opacity="0.9"/>
<rect x="759.10" y="304.7" width="1.8" height="7.2" fill="#dc4654"/>
<line x1="760.0" y1="306.6" x2="760.0" y2="321.8" stroke="#1d8f7b" stroke-width="0.8" opacity="0.9"/>
<rect x="759.10" y="307.0" width="1.8" height="12.4" fill="#1d8f7b"/>
<line x1="762.5" y1="304.9" x2="762.5" y2="316.0" stroke="#1d8f7b" stroke-width="0.8" opacity="0.9"/>
<rect x="761.60" y="307.4" width="1.8" height="6.5" fill="#1d8f7b"/>
<line x1="765.0" y1="300.9" x2="765.0" y2="311.5" stroke="#dc4654" stroke-width="0.8" opacity="0.9"/>
<rect x="764.10" y="302.3" width="1.8" height="7.8" fill="#dc4654"/>
<line x1="765.0" y1="304.1" x2="765.0" y2="315.4" stroke="#1d8f7b" stroke-width="0.8" opacity="0.9"/>
<rect x="764.10" y="305.9" width="1.8" height="6.9" fill="#1d8f7b"/>
<line x1="767.5" y1="307.6" x2="767.5" y2="318.0" stroke="#1d8f7b" stroke-width="0.8" opacity="0.9"/>
<rect x="766.60" y="309.4" width="1.8" height="6.1" fill="#1d8f7b"/>
<line x1="770.0" y1="306.3" x2="770.0" y2="313.8" stroke="#1d8f7b" stroke-width="0.8" opacity="0.9"/>
<rect x="769.10" y="307.7" width="1.8" height="4.7" fill="#1d8f7b"/>
<line x1="770.0" y1="301.8" x2="770.0" y2="308.1" stroke="#1d8f7b" stroke-width="0.8" opacity="0.9"/>
<rect x="769.10" y="302.8" width="1.8" height="3.9" fill="#1d8f7b"/>
<line x1="772.5" y1="301.0" x2="772.5" y2="309.9" stroke="#dc4654" stroke-width="0.8" opacity="0.9"/>
<rect x="771.60" y="301.9" width="1.8" height="6.7" fill="#dc4654"/>
<line x1="775.0" y1="301.0" x2="775.0" y2="309.2" stroke="#1d8f7b" stroke-width="0.8" opacity="0.9"/>
<rect x="774.10" y="301.3" width="1.8" height="5.8" fill="#1d8f7b"/>
<line x1="777.5" y1="302.2" x2="777.5" y2="311.1" stroke="#dc4654" stroke-width="0.8" opacity="0.9"/>
<rect x="776.60" y="303.2" width="1.8" height="5.9" fill="#dc4654"/>
<line x1="780.0" y1="304.6" x2="780.0" y2="312.6" stroke="#dc4654" stroke-width="0.8" opacity="0.9"/>
<rect x="779.10" y="305.9" width="1.8" height="4.4" fill="#dc4654"/>
<line x1="782.5" y1="297.8" x2="782.5" y2="304.3" stroke="#1d8f7b" stroke-width="0.8" opacity="0.9"/>
<rect x="781.60" y="298.6" width="1.8" height="5.6" fill="#1d8f7b"/>
<line x1="785.0" y1="291.7" x2="785.0" y2="301.1" stroke="#dc4654" stroke-width="0.8" opacity="0.9"/>
<rect x="784.10" y="292.2" width="1.8" height="6.6" fill="#dc4654"/>
<line x1="787.5" y1="295.9" x2="787.5" y2="305.0" stroke="#dc4654" stroke-width="0.8" opacity="0.9"/>
<rect x="786.60" y="298.3" width="1.8" height="6.0" fill="#dc4654"/>
<line x1="790.0" y1="298.9" x2="790.0" y2="306.3" stroke="#1d8f7b" stroke-width="0.8" opacity="0.9"/>
<rect x="789.10" y="300.4" width="1.8" height="5.5" fill="#1d8f7b"/>
<line x1="790.0" y1="297.5" x2="790.0" y2="304.2" stroke="#dc4654" stroke-width="0.8" opacity="0.9"/>
<rect x="789.10" y="298.4" width="1.8" height="5.7" fill="#dc4654"/>
<line x1="792.5" y1="285.9" x2="792.5" y2="295.8" stroke="#dc4654" stroke-width="0.8" opacity="0.9"/>
<rect x="791.60" y="287.2" width="1.8" height="6.4" fill="#dc4654"/>
<line x1="795.0" y1="283.1" x2="795.0" y2="295.4" stroke="#dc4654" stroke-width="0.8" opacity="0.9"/>
<rect x="794.10" y="285.4" width="1.8" height="8.1" fill="#dc4654"/>
<line x1="795.0" y1="276.9" x2="795.0" y2="283.9" stroke="#1d8f7b" stroke-width="0.8" opacity="0.9"/>
<rect x="794.10" y="277.5" width="1.8" height="6.2" fill="#1d8f7b"/>
<line x1="797.5" y1="282.9" x2="797.5" y2="291.8" stroke="#dc4654" stroke-width="0.8" opacity="0.9"/>
<rect x="796.60" y="283.3" width="1.8" height="6.3" fill="#dc4654"/>
<line x1="800.0" y1="281.4" x2="800.0" y2="289.2" stroke="#dc4654" stroke-width="0.8" opacity="0.9"/>
<rect x="799.10" y="281.9" width="1.8" height="4.9" fill="#dc4654"/>
<line x1="802.5" y1="282.7" x2="802.5" y2="290.0" stroke="#1d8f7b" stroke-width="0.8" opacity="0.9"/>
<rect x="801.60" y="282.8" width="1.8" height="4.8" fill="#1d8f7b"/>
<line x1="805.0" y1="273.3" x2="805.0" y2="283.5" stroke="#1d8f7b" stroke-width="0.8" opacity="0.9"/>
<rect x="804.10" y="275.2" width="1.8" height="6.3" fill="#1d8f7b"/>
<line x1="805.0" y1="274.1" x2="805.0" y2="279.9" stroke="#1d8f7b" stroke-width="0.8" opacity="0.9"/>
<rect x="804.10" y="274.9" width="1.8" height="5.0" fill="#1d8f7b"/>
<line x1="807.5" y1="270.5" x2="807.5" y2="279.1" stroke="#1d8f7b" stroke-width="0.8" opacity="0.9"/>
<rect x="806.60" y="271.6" width="1.8" height="5.8" fill="#1d8f7b"/>
<line x1="810.0" y1="266.5" x2="810.0" y2="274.3" stroke="#1d8f7b" stroke-width="0.8" opacity="0.9"/>
<rect x="809.10" y="267.4" width="1.8" height="5.8" fill="#1d8f7b"/>
<line x1="810.0" y1="259.4" x2="810.0" y2="272.1" stroke="#1d8f7b" stroke-width="0.8" opacity="0.9"/>
<rect x="809.10" y="261.8" width="1.8" height="7.9" fill="#1d8f7b"/>
<line x1="812.5" y1="260.4" x2="812.5" y2="269.8" stroke="#dc4654" stroke-width="0.8" opacity="0.9"/>
<rect x="811.60" y="262.4" width="1.8" height="6.9" fill="#dc4654"/>
<line x1="815.0" y1="264.7" x2="815.0" y2="271.2" stroke="#1d8f7b" stroke-width="0.8" opacity="0.9"/>
<rect x="814.10" y="265.7" width="1.8" height="3.5" fill="#1d8f7b"/>
<line x1="815.0" y1="255.5" x2="815.0" y2="264.3" stroke="#dc4654" stroke-width="0.8" opacity="0.9"/>
<rect x="814.10" y="256.5" width="1.8" height="7.8" fill="#dc4654"/>
<line x1="817.5" y1="245.5" x2="817.5" y2="256.9" stroke="#1d8f7b" stroke-width="0.8" opacity="0.9"/>
<rect x="816.60" y="246.3" width="1.8" height="10.0" fill="#1d8f7b"/>
<line x1="820.0" y1="248.7" x2="820.0" y2="257.3" stroke="#dc4654" stroke-width="0.8" opacity="0.9"/>
<rect x="819.10" y="249.6" width="1.8" height="5.8" fill="#dc4654"/>
<line x1="822.5" y1="249.6" x2="822.5" y2="256.1" stroke="#1d8f7b" stroke-width="0.8" opacity="0.9"/>
<rect x="821.60" y="250.7" width="1.8" height="5.0" fill="#1d8f7b"/>
<line x1="825.0" y1="253.4" x2="825.0" y2="260.1" stroke="#dc4654" stroke-width="0.8" opacity="0.9"/>
<rect x="824.10" y="254.9" width="1.8" height="4.4" fill="#dc4654"/>
<line x1="827.5" y1="258.4" x2="827.5" y2="265.4" stroke="#dc4654" stroke-width="0.8" opacity="0.9"/>
<rect x="826.60" y="259.6" width="1.8" height="4.5" fill="#dc4654"/>
<line x1="830.0" y1="258.5" x2="830.0" y2="267.5" stroke="#1d8f7b" stroke-width="0.8" opacity="0.9"/>
<rect x="829.10" y="260.5" width="1.8" height="4.6" fill="#1d8f7b"/>
<line x1="832.5" y1="264.8" x2="832.5" y2="271.1" stroke="#dc4654" stroke-width="0.8" opacity="0.9"/>
<rect x="831.60" y="265.1" width="1.8" height="4.0" fill="#dc4654"/>
<line x1="835.0" y1="264.9" x2="835.0" y2="269.5" stroke="#dc4654" stroke-width="0.8" opacity="0.9"/>
<rect x="834.10" y="265.6" width="1.8" height="3.3" fill="#dc4654"/>
<line x1="835.0" y1="262.1" x2="835.0" y2="267.4" stroke="#1d8f7b" stroke-width="0.8" opacity="0.9"/>
<rect x="834.10" y="262.6" width="1.8" height="2.7" fill="#1d8f7b"/>
<line x1="837.5" y1="261.1" x2="837.5" y2="267.2" stroke="#dc4654" stroke-width="0.8" opacity="0.9"/>
<rect x="836.60" y="262.2" width="1.8" height="3.7" fill="#dc4654"/>
<line x1="840.0" y1="254.6" x2="840.0" y2="262.8" stroke="#1d8f7b" stroke-width="0.8" opacity="0.9"/>
<rect x="839.10" y="257.1" width="1.8" height="5.0" fill="#1d8f7b"/>
<line x1="842.5" y1="259.1" x2="842.5" y2="264.2" stroke="#dc4654" stroke-width="0.8" opacity="0.9"/>
<rect x="841.60" y="259.8" width="1.8" height="3.9" fill="#dc4654"/>
<line x1="845.0" y1="263.4" x2="845.0" y2="270.0" stroke="#dc4654" stroke-width="0.8" opacity="0.9"/>
<rect x="844.10" y="263.9" width="1.8" height="4.6" fill="#dc4654"/>
<line x1="847.5" y1="263.4" x2="847.5" y2="272.0" stroke="#1d8f7b" stroke-width="0.8" opacity="0.9"/>
<rect x="846.60" y="265.3" width="1.8" height="6.2" fill="#1d8f7b"/>
<line x1="850.0" y1="265.0" x2="850.0" y2="272.5" stroke="#1d8f7b" stroke-width="0.8" opacity="0.9"/>
<rect x="849.10" y="265.5" width="1.8" height="6.2" fill="#1d8f7b"/>
<line x1="852.5" y1="266.8" x2="852.5" y2="276.4" stroke="#dc4654" stroke-width="0.8" opacity="0.9"/>
<rect x="851.60" y="269.0" width="1.8" height="5.0" fill="#dc4654"/>
<line x1="855.0" y1="272.1" x2="855.0" y2="279.9" stroke="#dc4654" stroke-width="0.8" opacity="0.9"/>
<rect x="854.10" y="273.7" width="1.8" height="3.7" fill="#dc4654"/>
<line x1="855.0" y1="276.0" x2="855.0" y2="283.0" stroke="#1d8f7b" stroke-width="0.8" opacity="0.9"/>
<rect x="854.10" y="276.4" width="1.8" height="4.9" fill="#1d8f7b"/>
<line x1="857.5" y1="280.9" x2="857.5" y2="288.7" stroke="#1d8f7b" stroke-width="0.8" opacity="0.9"/>
<rect x="856.60" y="281.0" width="1.8" height="5.9" fill="#1d8f7b"/>
<line x1="860.0" y1="285.2" x2="860.0" y2="296.3" stroke="#dc4654" stroke-width="0.8" opacity="0.9"/>
<rect x="859.10" y="287.7" width="1.8" height="6.1" fill="#dc4654"/>
<line x1="860.0" y1="289.1" x2="860.0" y2="297.9" stroke="#dc4654" stroke-width="0.8" opacity="0.9"/>
<rect x="859.10" y="291.3" width="1.8" height="4.2" fill="#dc4654"/>
<line x1="862.5" y1="294.2" x2="862.5" y2="302.8" stroke="#dc4654" stroke-width="0.8" opacity="0.9"/>
<rect x="861.60" y="295.7" width="1.8" height="4.8" fill="#dc4654"/>
<line x1="865.0" y1="295.8" x2="865.0" y2="299.7" stroke="#dc4654" stroke-width="0.8" opacity="0.9"/>
<rect x="864.10" y="297.0" width="1.8" height="2.7" fill="#dc4654"/>
<line x1="867.5" y1="294.7" x2="867.5" y2="300.7" stroke="#1d8f7b" stroke-width="0.8" opacity="0.9"/>
<rect x="866.60" y="294.9" width="1.8" height="4.1" fill="#1d8f7b"/>
<line x1="870.0" y1="284.3" x2="870.0" y2="292.0" stroke="#1d8f7b" stroke-width="0.8" opacity="0.9"/>
<rect x="869.10" y="286.8" width="1.8" height="5.1" fill="#1d8f7b"/>
<line x1="872.5" y1="282.6" x2="872.5" y2="291.9" stroke="#1d8f7b" stroke-width="0.8" opacity="0.9"/>
<rect x="871.60" y="283.3" width="1.8" height="6.4" fill="#1d8f7b"/>
<line x1="400.0" y1="285.4" x2="400.0" y2="297.4" stroke="#1d8f7b" stroke-width="0.8" opacity="0.9"/>
<rect x="399.10" y="286.6" width="1.8" height="10.0" fill="#1d8f7b"/>
<line x1="400.0" y1="279.3" x2="400.0" y2="291.3" stroke="#1d8f7b" stroke-width="0.8" opacity="0.9"/>
<rect x="399.10" y="280.5" width="1.8" height="9.2" fill="#1d8f7b"/>
<line x1="402.5" y1="277.5" x2="402.5" y2="288.2" stroke="#1d8f7b" stroke-width="0.8" opacity="0.9"/>
<rect x="401.60" y="279.8" width="1.8" height="7.1" fill="#1d8f7b"/>
<line x1="405.0" y1="269.8" x2="405.0" y2="279.6" stroke="#dc4654" stroke-width="0.8" opacity="0.9"/>
<rect x="404.10" y="271.0" width="1.8" height="7.6" fill="#dc4654"/>
<line x1="407.5" y1="268.4" x2="407.5" y2="277.3" stroke="#1d8f7b" stroke-width="0.8" opacity="0.9"/>
<rect x="406.60" y="270.2" width="1.8" height="5.6" fill="#1d8f7b"/>
<line x1="407.5" y1="271.0" x2="407.5" y2="278.9" stroke="#1d8f7b" stroke-width="0.8" opacity="0.9"/>
<rect x="406.60" y="271.2" width="1.8" height="6.8" fill="#1d8f7b"/>
<line x1="410.0" y1="268.7" x2="410.0" y2="285.1" stroke="#1d8f7b" stroke-width="0.8" opacity="0.9"/>
<rect x="409.10" y="270.9" width="1.8" height="12.7" fill="#1d8f7b"/>
<line x1="412.5" y1="282.5" x2="412.5" y2="296.8" stroke="#dc4654" stroke-width="0.8" opacity="0.9"/>
<rect x="411.60" y="284.0" width="1.8" height="11.9" fill="#dc4654"/>
<line x1="415.0" y1="284.8" x2="415.0" y2="306.9" stroke="#dc4654" stroke-width="0.8" opacity="0.9"/>
<rect x="414.10" y="285.7" width="1.8" height="18.9" fill="#dc4654"/>
</g>
<line x1="391.2" y1="362" x2="391.2" y2="374" stroke="#1d8f7b" stroke-width="1.1"/>
<line x1="392.6" y1="350" x2="392.6" y2="358" stroke="#5fb3a4" stroke-width="1.1"/>
<line x1="393.8" y1="338" x2="393.8" y2="345" stroke="#5fb3a4" stroke-width="1.1"/>
<line x1="395.2" y1="326" x2="395.2" y2="332" stroke="#5fb3a4" stroke-width="1.1"/>
<line x1="396.6" y1="318" x2="396.6" y2="327" stroke="#e88a93" stroke-width="1.1"/>
<line x1="397.8" y1="308" x2="397.8" y2="314" stroke="#5fb3a4" stroke-width="1.1"/>
<line x1="399" y1="297" x2="399" y2="304" stroke="#5fb3a4" stroke-width="1.1"/>
<line x1="416.5" y1="277" x2="416.5" y2="282" stroke="#1d8f7b" stroke-width="1.1"/>
<line x1="427.3" y1="223.5" x2="427.3" y2="230" stroke="#1d8f7b" stroke-width="1.1"/>
<line x1="428.4" y1="214.5" x2="428.4" y2="216.5" stroke="#1d8f7b" stroke-width="1.1"/>
<line x1="432" y1="181" x2="432" y2="183" stroke="#1d8f7b" stroke-width="1.1"/>
<line x1="424.6" y1="238" x2="424.6" y2="239.5" stroke="#8fcfc5" stroke-width="1.1"/>
<line x1="430.2" y1="199.5" x2="430.2" y2="201" stroke="#8fcfc5" stroke-width="1.1"/>
<line x1="433.4" y1="174" x2="433.4" y2="176" stroke="#8fcfc5" stroke-width="1.1"/>
<line x1="440.75" y1="119.5" x2="440.75" y2="132" stroke="#dc4654" stroke-width="1.1"/>
<line x1="446.5" y1="122.5" x2="446.5" y2="132" stroke="#dc4654" stroke-width="1.1"/>
<line x1="458" y1="146" x2="458" y2="152" stroke="#1d8f7b" stroke-width="1.1"/>
<line x1="459.5" y1="140" x2="459.5" y2="150" stroke="#1d8f7b" stroke-width="1.1"/>
<line x1="461" y1="120" x2="461" y2="136" stroke="#dc4654" stroke-width="1.1"/>
<line x1="535" y1="152" x2="535" y2="160" stroke="#dc4654" stroke-width="1.1"/>
<line x1="545" y1="176" x2="545" y2="190" stroke="#f19aa0" stroke-width="1.1"/>
<line x1="580.5" y1="234" x2="580.5" y2="238" stroke="#ea8d96" stroke-width="1.1"/>
<line x1="582.5" y1="238" x2="582.5" y2="241.5" stroke="#ea8d96" stroke-width="1.1"/>
<line x1="584.5" y1="242" x2="584.5" y2="245.5" stroke="#ea8d96" stroke-width="1.1"/>
<line x1="587" y1="246" x2="587" y2="249" stroke="#ea8d96" stroke-width="1.1"/>
<line x1="589.5" y1="250" x2="589.5" y2="252.5" stroke="#ea8d96" stroke-width="1.1"/>
<line x1="599" y1="257" x2="599" y2="260.5" stroke="#ea8d96" stroke-width="1.1"/>
<line x1="600.5" y1="262" x2="600.5" y2="266" stroke="#ea8d96" stroke-width="1.1"/>
<line x1="601.8" y1="267" x2="601.8" y2="271" stroke="#ea8d96" stroke-width="1.1"/>
<line x1="874.5" y1="264" x2="874.5" y2="274" stroke="#1d8f7b" stroke-width="1.1"/>
<line x1="875.3" y1="266" x2="875.3" y2="274" stroke="#1d8f7b" stroke-width="1.1"/>
<line x1="339.5" y1="440" x2="339.5" y2="446" stroke="#f19aa0" stroke-width="1.1"/>
<line x1="553" y1="227.8" x2="575" y2="227.8" stroke="#1d8f7b" stroke-width="0.9" opacity="0.8"/>
<line x1="560" y1="228" x2="571" y2="228" stroke="#1d8f7b" stroke-width="0.9" opacity="0.8"/>
<line x1="591.5" y1="254.5" x2="598" y2="254.5" stroke="#1d8f7b" stroke-width="0.9" opacity="0.8"/>
<circle cx="346.5" cy="406.5" r="3.4" fill="#2196f3"/>
<circle cx="450" cy="132.5" r="3.6" fill="#f7c325"/>
<circle cx="540.5" cy="165.5" r="3.6" fill="#f7c325"/>
<circle cx="638" cy="253" r="3.6" fill="#f7c325"/>
<circle cx="859.5" cy="274.5" r="3.6" fill="#f7c325"/>
<polyline points="875,270 896.5,332 1006.75,146" fill="none" stroke="#f0a030" stroke-width="1.15" stroke-linejoin="miter"/>
<polyline points="999.5,147.5 1006.75,146 1008.75,154" fill="none" stroke="#f0a030" stroke-width="1.2"/>
<polyline points="890.5,328.5 896.5,332 899,326" fill="none" stroke="#f0a030" stroke-width="1.2"/>
<text x="505" y="305" font-size="17.5" fill="#5aa45c" text-anchor="middle">A</text>
<text x="540" y="118" font-size="17.5" fill="#5aa45c" text-anchor="middle">B</text>
<text x="602" y="343" font-size="17.5" fill="#5aa45c" text-anchor="middle">C</text>
<text x="674.5" y="177.5" font-size="17.5" fill="#5aa45c" text-anchor="middle">D</text>
<text x="757" y="370.5" font-size="17.5" fill="#5aa45c" text-anchor="middle">E</text>
<text x="827.5" y="235" font-size="17.5" fill="#5aa45c" text-anchor="middle">F</text>
<text x="911.5" y="357" font-size="16.5" fill="#5aa45c" textLength="10.5" lengthAdjust="spacingAndGlyphs">G</text>
<text x="447" y="105.8" font-size="18.5" fill="#d63b6c" textLength="28.9" lengthAdjust="spacing">(F)</text>
<text x="924" y="386.9" font-size="18.5" fill="#d63b6c" textLength="30.8" lengthAdjust="spacing">(G)</text>
<text x="930.3" y="177.2" font-size="15.6" fill="#000" font-weight="bold" textLength="26" lengthAdjust="spacingAndGlyphs">280</text>
<text x="917.3" y="232.2" font-size="15.6" fill="#000" font-weight="bold" textLength="25.6" lengthAdjust="spacingAndGlyphs">210</text>
<text x="872.6" y="263" font-size="15" fill="#000" font-weight="bold" textLength="25" lengthAdjust="spacingAndGlyphs">170</text>
<text x="905.3" y="321.6" font-size="15.4" fill="#000" font-weight="bold" textLength="58.3" lengthAdjust="spacingAndGlyphs">125-130</text>
<text x="371" y="111.5" font-size="12.5" fill="#7a7d85" textLength="61.3" lengthAdjust="spacingAndGlyphs">1(3929.45)</text>
<text x="346.3" y="164" font-size="12.5" fill="#1f9d8b" textLength="86" lengthAdjust="spacingAndGlyphs">0.618(2886.06)</text>
<text x="36" y="477" font-size="13" fill="#b4b4b8">0</text>
<text x="466.5" y="477" font-size="13" fill="#b4b4b8">1</text>
<text x="900" y="477" font-size="13" fill="#b4b4b8">2</text>
<text x="27.3" y="19.3" font-size="13" fill="#222" text-anchor="middle" style="font-family:'Liberation Sans','DejaVu Sans',sans-serif">بیمه آسیا</text>
<circle cx="60" cy="18.6" r="1" fill="#b0b0b0"/>
<text x="66.4" y="19.5" font-size="12.5" fill="#1a1a1a" textLength="12.6" lengthAdjust="spacingAndGlyphs" stroke="#1a1a1a" stroke-width="0.35">1D</text>
<circle cx="87" cy="18.6" r="1" fill="#b0b0b0"/>
<text x="108.5" y="18.3" font-size="13" fill="#222" text-anchor="middle" style="font-family:'Liberation Sans','DejaVu Sans',sans-serif">بورس</text>
<text x="133.4" y="19.3" font-size="12.5" fill="#1f9d8b" textLength="103" lengthAdjust="spacingAndGlyphs">+50.00 (+3.14%)</text>
<text x="2" y="47" font-size="12.6" fill="#1a1a1a" textLength="39.5" lengthAdjust="spacingAndGlyphs">Volume</text>
<text x="45.5" y="47" font-size="12.6" fill="#555" textLength="40.5" lengthAdjust="spacingAndGlyphs">SMA 9</text>
<text x="95.7" y="47" font-size="12.6" fill="#2aa392" textLength="47.8" lengthAdjust="spacingAndGlyphs">22.891M</text>
<rect x="1216.5" y="0" width="63.5" height="523" fill="#fff"/>
<line x1="1216.3" y1="0" x2="1216.3" y2="515" stroke="#dcf0f1" stroke-width="1.4"/>
<text x="1226.6" y="13.7" font-size="13" fill="#2a2e39" textLength="45.8" lengthAdjust="spacingAndGlyphs">7500.00</text>
<text x="1226.6" y="51.300000000000004" font-size="13" fill="#2a2e39" textLength="45.8" lengthAdjust="spacingAndGlyphs">6000.00</text>
<text x="1226.6" y="89.7" font-size="13" fill="#2a2e39" textLength="45.8" lengthAdjust="spacingAndGlyphs">4800.00</text>
<text x="1226.6" y="139.2" font-size="13" fill="#2a2e39" textLength="45.8" lengthAdjust="spacingAndGlyphs">3600.00</text>
<text x="1226.6" y="179.45" font-size="13" fill="#2a2e39" textLength="45.8" lengthAdjust="spacingAndGlyphs">2850.00</text>
<text x="1226.6" y="219.1" font-size="13" fill="#2a2e39" textLength="45.8" lengthAdjust="spacingAndGlyphs">2250.00</text>
<text x="1226.6" y="252.7" font-size="13" fill="#2a2e39" textLength="45.8" lengthAdjust="spacingAndGlyphs">1850.00</text>
<text x="1226.6" y="294.45" font-size="13" fill="#2a2e39" textLength="45.8" lengthAdjust="spacingAndGlyphs">1450.00</text>
<text x="1226.6" y="334.45" font-size="13" fill="#2a2e39" textLength="45.8" lengthAdjust="spacingAndGlyphs">1150.00</text>
<text x="1226.6" y="366.7" font-size="13" fill="#2a2e39" textLength="38.8" lengthAdjust="spacingAndGlyphs">950.00</text>
<text x="1226.6" y="407.2" font-size="13" fill="#2a2e39" textLength="38.8" lengthAdjust="spacingAndGlyphs">750.00</text>
<text x="1226.6" y="442.4" font-size="13" fill="#2a2e39" textLength="38.8" lengthAdjust="spacingAndGlyphs">610.00</text>
<rect x="1216" y="260.5" width="64" height="17" fill="#11775f"/>
<text x="1226.6" y="273.7" font-size="13" fill="#fff" textLength="45.8" lengthAdjust="spacingAndGlyphs">1640.00</text>
<rect x="1216" y="467" width="64" height="17.5" fill="#2aa796"/>
<text x="1226" y="480.3" font-size="12.5" fill="#fff" textLength="48" lengthAdjust="spacingAndGlyphs">22.891M</text>
<line x1="0" y1="484.5" x2="1280" y2="484.5" stroke="#e6e9ec" stroke-width="1"/>
<line x1="0" y1="514.5" x2="1280" y2="514.5" stroke="#dcdcdc" stroke-width="1.2"/>
<text x="107.2" y="502.7" font-size="12.5" fill="#1a1a1a" font-weight="bold" textLength="25" lengthAdjust="spacingAndGlyphs">1397</text>
<text x="324.5" y="502.7" font-size="12.5" fill="#1a1a1a" font-weight="bold" textLength="25" lengthAdjust="spacingAndGlyphs">1398</text>
<text x="527.5" y="502.7" font-size="12.5" fill="#1a1a1a" font-weight="bold" textLength="25" lengthAdjust="spacingAndGlyphs">1399</text>
<text x="730.5" y="502.7" font-size="12.5" fill="#1a1a1a" font-weight="bold" textLength="25" lengthAdjust="spacingAndGlyphs">1400</text>
<text x="953.0" y="502.7" font-size="12.5" fill="#1a1a1a" font-weight="bold" textLength="25" lengthAdjust="spacingAndGlyphs">1401</text>
<clipPath id="c1402"><rect x="1180" y="486" width="36" height="28"/></clipPath>
<text x="1192.7" y="502.7" font-size="12.5" fill="#1a1a1a" font-weight="bold" textLength="25" lengthAdjust="spacingAndGlyphs" clip-path="url(#c1402)">1402</text>
<text x="208.7" y="502" font-size="13" fill="#222" text-anchor="middle" style="font-family:'Liberation Sans','DejaVu Sans',sans-serif">خرداد</text>
<text x="423.5" y="502" font-size="13" fill="#222" text-anchor="middle" style="font-family:'Liberation Sans','DejaVu Sans',sans-serif">خرداد</text>
<text x="834" y="502" font-size="13" fill="#222" text-anchor="middle" style="font-family:'Liberation Sans','DejaVu Sans',sans-serif">خرداد</text>
<text x="1063.5" y="502" font-size="13" fill="#222" text-anchor="middle" style="font-family:'Liberation Sans','DejaVu Sans',sans-serif">خرداد</text>
<text x="6.4" y="502" font-size="13" fill="#222" text-anchor="middle" style="font-family:'Liberation Sans','DejaVu Sans',sans-serif">تیر</text>
<text x="631.9" y="502" font-size="13" fill="#222" text-anchor="middle" style="font-family:'Liberation Sans','DejaVu Sans',sans-serif">تیر</text>
<circle cx="1253.3" cy="499.8" r="5.2" fill="none" stroke="#1a1a1a" stroke-width="1.2"/>
<line x1="1258.90" y1="499.80" x2="1261.10" y2="499.80" stroke="#1a1a1a" stroke-width="1.2"/>
<line x1="1257.26" y1="503.76" x2="1258.82" y2="505.32" stroke="#1a1a1a" stroke-width="1.2"/>
<line x1="1253.30" y1="505.40" x2="1253.30" y2="507.60" stroke="#1a1a1a" stroke-width="1.2"/>
<line x1="1249.34" y1="503.76" x2="1247.78" y2="505.32" stroke="#1a1a1a" stroke-width="1.2"/>
<line x1="1247.70" y1="499.80" x2="1245.50" y2="499.80" stroke="#1a1a1a" stroke-width="1.2"/>
<line x1="1249.34" y1="495.84" x2="1247.78" y2="494.28" stroke="#1a1a1a" stroke-width="1.2"/>
<line x1="1253.30" y1="494.20" x2="1253.30" y2="492.00" stroke="#1a1a1a" stroke-width="1.2"/>
<line x1="1257.26" y1="495.84" x2="1258.82" y2="494.28" stroke="#1a1a1a" stroke-width="1.2"/>
<circle cx="16.6" cy="460.6" r="17.4" fill="#fff" stroke="#e9e9ea" stroke-width="1.6"/>
<path d="M5.8,455.8H14.8V467.2H10.4V460H5.8Z" fill="#15181f"/>
<circle cx="18" cy="457.6" r="1.75" fill="#15181f"/>
<path d="M22.4,455.8H28L23.6,467.2H18.2Z" fill="#15181f"/>
<text x="990" y="494" font-size="20" fill="#000" textLength="165" lengthAdjust="spacingAndGlyphs" opacity="0.3">Activate Windows</text>
<text x="989.5" y="517" font-size="14.5" fill="#000" textLength="243" lengthAdjust="spacingAndGlyphs" opacity="0.3">Go to Settings to activate Windows.</text>
</svg></body></html>
